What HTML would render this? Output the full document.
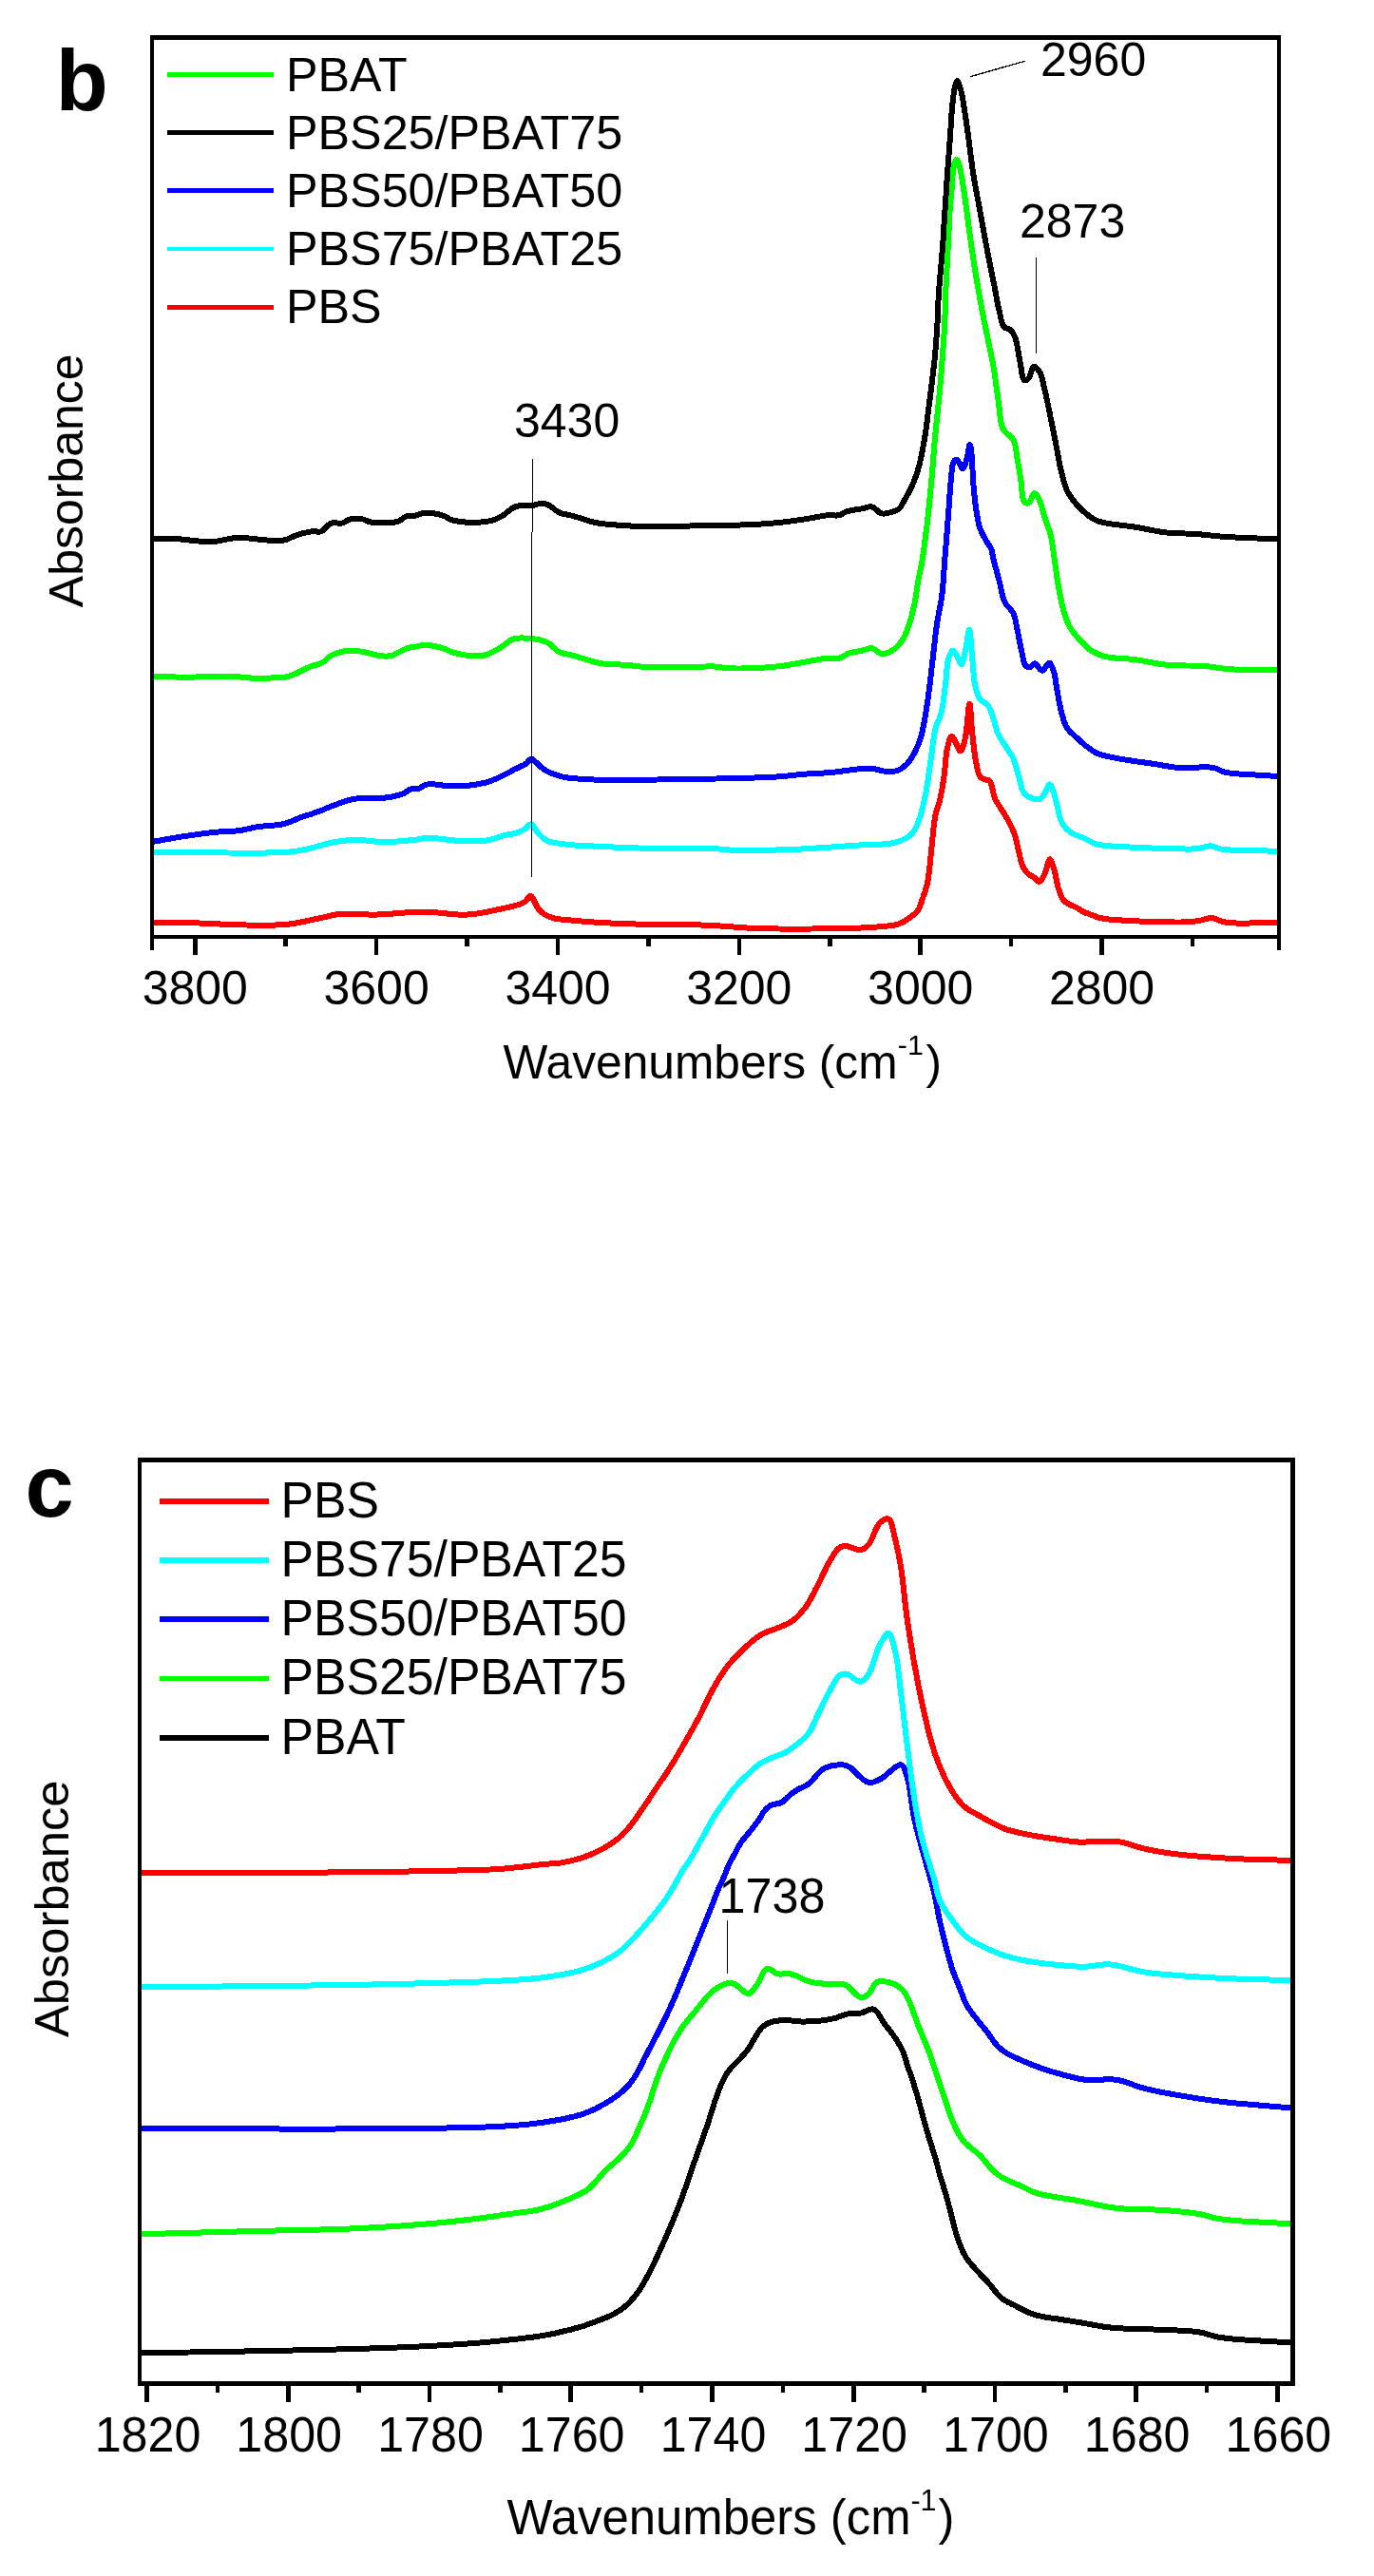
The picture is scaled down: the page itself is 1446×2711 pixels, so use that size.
<!DOCTYPE html>
<html><head><meta charset="utf-8"><style>
html,body{margin:0;padding:0;background:#fff;}
svg{display:block;will-change:transform;}
</style></head><body>
<svg width="1446" height="2711" viewBox="0 0 1446 2711" shape-rendering="crispEdges">
<rect x="0" y="0" width="1446" height="2711" fill="#fff"/>
<g clip-path="url(#clipb)">
<polyline points="158.7,970.5 164.7,970.6 170.7,970.7 176.6,970.8 182.6,970.9 188.6,971.0 194.6,971.1 200.7,971.2 206.8,971.4 213.3,971.6 219.9,971.9 226.5,972.2 233.2,972.6 239.8,972.9 246.4,973.2 252.9,973.4 259.2,973.5 264.9,973.6 270.6,973.6 276.2,973.7 281.7,973.7 287.2,973.6 292.6,973.4 297.8,973.1 302.8,972.7 306.9,972.2 310.9,971.6 314.8,970.9 318.6,970.1 322.4,969.3 326.1,968.5 329.7,967.7 333.4,967.0 336.7,966.3 340.0,965.5 343.2,964.8 346.4,964.0 349.6,963.3 352.8,962.6 356.1,962.1 359.6,961.7 363.7,961.5 367.8,961.5 372.0,961.6 376.3,961.9 380.7,962.2 385.2,962.4 389.8,962.6 394.5,962.6 400.6,962.4 407.0,962.0 413.6,961.5 420.4,961.0 427.2,960.4 434.0,960.0 440.6,959.7 447.0,959.6 452.7,959.8 458.3,960.2 463.9,960.8 469.4,961.4 474.8,962.0 480.2,962.4 485.4,962.7 490.6,962.6 495.2,962.3 499.7,961.8 504.2,961.2 508.6,960.4 513.0,959.6 517.2,958.7 521.4,957.8 525.5,956.9 529.1,956.1 532.8,955.3 536.5,954.5 540.0,953.6 543.4,952.7 546.6,951.7 549.4,950.7 551.7,949.5 552.8,948.7 553.8,947.6 554.6,946.5 555.4,945.4 556.1,944.4 556.8,943.6 557.5,943.1 558.3,943.0 559.4,943.5 560.4,944.8 561.4,946.6 562.4,948.7 563.5,951.0 564.6,953.2 565.7,955.2 567.0,956.9 568.2,958.1 569.4,959.3 570.6,960.4 571.9,961.4 573.2,962.3 574.7,963.2 576.3,964.0 578.0,964.8 580.9,965.8 584.2,966.6 587.7,967.2 591.5,967.7 595.5,968.1 599.7,968.4 604.0,968.8 608.5,969.2 615.5,969.8 623.2,970.4 631.5,970.9 640.0,971.4 648.7,971.8 657.4,972.1 665.9,972.4 674.0,972.7 681.3,972.9 688.7,973.0 696.1,973.0 703.4,973.0 710.5,973.0 717.4,973.0 723.9,973.1 730.0,973.2 734.1,973.3 737.9,973.5 741.6,973.6 745.1,973.8 748.5,974.0 752.0,974.2 755.7,974.4 759.5,974.6 764.0,974.9 768.6,975.2 773.1,975.6 777.8,975.9 782.7,976.3 787.7,976.6 793.1,976.9 798.8,977.1 808.4,977.3 819.2,977.5 830.9,977.6 843.0,977.6 855.1,977.5 866.8,977.4 877.6,977.3 887.2,977.1 893.0,977.0 898.5,976.8 903.7,976.6 908.7,976.4 913.4,976.2 918.0,975.9 922.3,975.6 926.5,975.2 929.3,974.9 932.1,974.7 934.7,974.4 937.2,974.2 939.6,973.8 941.9,973.4 944.1,972.9 946.2,972.2 947.9,971.5 949.5,970.8 951.0,970.0 952.5,969.1 953.9,968.1 955.3,967.2 956.6,966.2 957.9,965.3 959.0,964.5 960.1,963.7 961.2,962.9 962.2,962.1 963.1,961.3 964.1,960.4 965.0,959.4 965.8,958.3 966.7,956.8 967.6,955.1 968.3,953.3 969.0,951.4 969.7,949.5 970.3,947.5 971.0,945.6 971.6,943.7 972.2,941.9 972.8,940.2 973.4,938.4 974.0,936.7 974.5,934.9 975.1,933.1 975.5,931.2 976.0,929.2 976.5,926.7 976.9,924.1 977.3,921.5 977.6,918.7 978.0,916.0 978.3,913.1 978.6,910.2 978.9,907.3 979.3,903.8 979.6,900.2 980.0,896.5 980.3,892.7 980.7,889.0 981.1,885.3 981.4,881.7 981.8,878.2 982.1,875.3 982.4,872.4 982.7,869.6 983.1,866.8 983.4,864.1 983.8,861.4 984.2,858.9 984.7,856.4 985.2,854.4 985.7,852.6 986.3,850.9 986.8,849.2 987.4,847.4 988.0,845.7 988.6,843.8 989.1,841.8 989.7,839.0 990.3,836.1 990.9,833.1 991.5,830.0 992.0,826.8 992.5,823.5 993.0,820.3 993.5,817.0 994.0,813.2 994.4,809.3 994.8,805.1 995.1,801.0 995.5,797.0 995.9,793.1 996.5,789.6 997.1,786.5 997.6,784.6 998.1,782.7 998.6,780.7 999.1,778.9 999.7,777.4 1000.3,776.1 1000.9,775.2 1001.5,774.9 1002.0,775.1 1002.6,775.6 1003.1,776.4 1003.7,777.5 1004.3,778.6 1004.9,779.8 1005.4,781.0 1006.0,782.0 1006.6,783.1 1007.2,784.4 1007.8,785.8 1008.4,787.1 1009.0,788.3 1009.6,789.3 1010.1,790.0 1010.7,790.2 1011.3,789.9 1011.9,789.1 1012.5,788.0 1013.1,786.5 1013.7,784.8 1014.3,783.0 1014.8,781.1 1015.3,779.2 1016.2,775.0 1016.9,769.5 1017.6,763.1 1018.3,756.6 1018.9,750.5 1019.4,745.5 1019.9,742.0 1020.4,740.7 1020.7,741.4 1021.0,743.2 1021.3,746.0 1021.5,749.4 1021.8,753.2 1022.0,757.2 1022.3,761.1 1022.6,764.7 1023.0,769.0 1023.5,773.6 1024.0,778.5 1024.5,783.4 1025.1,788.2 1025.7,792.9 1026.3,797.2 1027.0,801.1 1027.5,803.5 1027.9,805.9 1028.3,808.2 1028.8,810.4 1029.3,812.4 1029.9,814.2 1030.5,815.8 1031.3,817.1 1031.8,817.7 1032.3,818.2 1032.8,818.6 1033.4,818.9 1033.9,819.2 1034.5,819.4 1035.1,819.7 1035.7,820.0 1036.4,820.3 1037.1,820.4 1037.9,820.6 1038.6,820.7 1039.4,820.9 1040.2,821.1 1040.9,821.5 1041.5,822.0 1042.5,823.5 1043.3,825.5 1044.0,828.0 1044.6,830.7 1045.2,833.5 1045.8,836.3 1046.5,838.8 1047.3,841.0 1048.0,842.4 1048.7,843.6 1049.4,844.8 1050.1,845.9 1050.9,847.0 1051.6,848.2 1052.4,849.3 1053.2,850.6 1054.2,852.3 1055.3,854.0 1056.5,855.8 1057.6,857.7 1058.7,859.6 1059.9,861.4 1060.9,863.3 1061.9,865.1 1062.7,866.7 1063.5,868.3 1064.3,869.9 1065.0,871.5 1065.7,873.1 1066.4,874.8 1067.1,876.5 1067.7,878.2 1068.4,880.3 1069.0,882.4 1069.5,884.6 1070.0,886.8 1070.5,889.1 1071.0,891.3 1071.6,893.5 1072.1,895.7 1072.6,897.8 1073.1,899.9 1073.5,902.0 1074.0,904.1 1074.5,906.2 1075.1,908.2 1075.7,910.0 1076.4,911.7 1077.0,912.9 1077.7,914.1 1078.4,915.2 1079.1,916.2 1079.9,917.2 1080.7,918.1 1081.5,918.9 1082.3,919.7 1083.0,920.3 1083.7,920.8 1084.4,921.2 1085.2,921.6 1085.9,922.0 1086.6,922.4 1087.4,922.8 1088.1,923.3 1088.8,923.9 1089.6,924.6 1090.3,925.4 1091.1,926.1 1091.8,926.8 1092.5,927.3 1093.2,927.7 1093.9,927.7 1094.7,927.4 1095.5,926.7 1096.2,925.7 1097.0,924.5 1097.7,923.2 1098.4,921.7 1099.1,920.3 1099.7,919.0 1100.4,917.2 1101.1,915.0 1101.8,912.6 1102.4,910.2 1103.0,908.0 1103.6,906.1 1104.2,904.9 1104.8,904.4 1105.4,904.7 1105.9,905.4 1106.5,906.5 1107.0,907.9 1107.6,909.6 1108.1,911.3 1108.7,913.0 1109.2,914.6 1109.9,917.0 1110.5,919.6 1111.1,922.5 1111.7,925.4 1112.2,928.4 1112.9,931.3 1113.5,934.0 1114.3,936.4 1114.9,938.1 1115.5,939.7 1116.1,941.3 1116.7,942.8 1117.4,944.2 1118.1,945.6 1119.0,946.9 1120.1,948.1 1121.6,949.4 1123.3,950.6 1125.3,951.6 1127.3,952.6 1129.4,953.5 1131.4,954.4 1133.2,955.3 1134.7,956.1 1135.5,956.6 1136.2,957.1 1136.9,957.6 1137.5,958.1 1138.1,958.5 1138.7,958.9 1139.3,959.3 1140.0,959.7 1140.7,960.0 1141.5,960.3 1142.2,960.6 1143.0,960.8 1143.8,961.1 1144.6,961.3 1145.4,961.6 1146.3,961.9 1147.6,962.4 1148.9,962.9 1150.3,963.5 1151.7,964.0 1153.2,964.6 1154.8,965.2 1156.4,965.7 1158.2,966.1 1161.0,966.6 1164.0,967.1 1167.1,967.5 1170.4,967.8 1174.0,968.1 1177.7,968.3 1181.5,968.6 1185.6,968.8 1192.6,969.2 1200.8,969.6 1209.6,969.9 1218.7,970.2 1227.7,970.4 1236.1,970.5 1243.5,970.5 1249.5,970.3 1251.8,970.2 1253.9,970.0 1255.8,969.8 1257.6,969.6 1259.2,969.3 1260.9,969.1 1262.5,968.8 1264.1,968.5 1265.5,968.2 1266.9,967.8 1268.2,967.4 1269.6,967.0 1270.9,966.6 1272.2,966.3 1273.6,966.1 1275.0,966.1 1276.7,966.3 1278.3,966.7 1279.9,967.3 1281.5,968.0 1283.3,968.8 1285.2,969.5 1287.3,970.1 1289.6,970.6 1294.8,971.2 1301.0,971.5 1307.8,971.5 1315.2,971.5 1322.8,971.3 1330.5,971.2 1338.1,971.0 1345.3,971.0" fill="none" stroke="#ff0000" stroke-width="6.0" stroke-linejoin="round" stroke-linecap="butt" shape-rendering="crispEdges"/>
<polyline points="158.7,896.7 177.6,896.8 197.7,897.0 218.3,897.3 238.7,897.5 258.1,897.6 275.7,897.6 290.9,897.3 302.8,896.7 306.5,896.4 309.7,896.0 312.5,895.6 315.0,895.2 317.4,894.8 319.7,894.3 322.1,893.8 324.7,893.2 327.5,892.6 330.2,891.8 333.0,891.0 335.8,890.2 338.5,889.4 341.2,888.6 343.9,887.9 346.5,887.3 348.8,886.8 351.0,886.4 353.2,886.0 355.4,885.6 357.6,885.3 359.7,885.0 361.9,884.7 364.0,884.5 365.9,884.3 367.8,884.2 369.7,884.1 371.5,884.1 373.4,884.0 375.3,884.0 377.3,884.0 379.3,884.1 381.9,884.2 384.6,884.5 387.4,884.7 390.2,885.1 393.0,885.4 395.8,885.6 398.5,885.9 401.1,886.0 403.1,886.0 405.0,886.1 406.9,886.0 408.7,886.0 410.5,885.9 412.4,885.8 414.3,885.7 416.4,885.6 419.2,885.4 422.2,885.2 425.3,884.9 428.4,884.6 431.6,884.3 434.6,884.0 437.4,883.7 440.0,883.4 441.5,883.2 442.9,882.9 444.1,882.7 445.3,882.4 446.6,882.2 447.9,882.0 449.3,881.9 450.9,881.8 454.2,881.9 457.9,882.1 462.0,882.6 466.3,883.1 470.8,883.7 475.3,884.2 479.6,884.6 483.7,884.9 487.4,885.0 491.0,885.2 494.7,885.3 498.3,885.3 501.9,885.3 505.4,885.1 508.7,884.9 512.0,884.5 514.7,884.0 517.3,883.4 519.9,882.7 522.4,881.9 524.9,881.1 527.2,880.3 529.5,879.6 531.7,879.0 533.3,878.6 534.8,878.3 536.2,878.1 537.7,877.8 539.0,877.6 540.4,877.3 541.7,877.0 543.0,876.6 544.1,876.2 545.2,875.9 546.3,875.5 547.4,875.1 548.4,874.6 549.4,874.1 550.4,873.6 551.4,873.1 552.4,872.4 553.4,871.5 554.4,870.5 555.3,869.6 556.3,868.7 557.2,867.9 558.1,867.5 559.0,867.4 559.9,867.7 560.7,868.5 561.5,869.5 562.2,870.7 563.0,872.0 563.8,873.3 564.6,874.6 565.5,875.7 566.6,876.9 567.6,878.0 568.7,879.2 569.9,880.4 571.1,881.6 572.4,882.6 573.9,883.6 575.4,884.5 577.6,885.4 580.0,886.2 582.5,886.8 585.3,887.3 588.1,887.7 591.0,888.1 594.1,888.4 597.2,888.8 601.6,889.3 606.3,889.6 611.4,890.0 616.5,890.2 621.7,890.4 626.8,890.6 631.8,890.8 636.5,891.0 640.2,891.2 643.7,891.4 647.0,891.6 650.3,891.7 653.6,891.9 657.1,892.0 660.8,892.2 664.9,892.3 671.9,892.5 679.9,892.6 688.5,892.7 697.4,892.9 706.3,892.9 714.9,893.0 722.9,893.1 730.0,893.2 734.3,893.2 738.6,893.3 742.6,893.3 746.5,893.3 750.1,893.3 753.5,893.4 756.7,893.5 759.5,893.6 760.9,893.7 762.1,893.8 763.2,894.0 764.2,894.1 765.3,894.2 766.4,894.4 767.7,894.5 769.3,894.6 774.4,894.8 780.8,894.8 788.3,894.9 796.4,894.8 804.9,894.7 813.2,894.6 821.2,894.4 828.3,894.2 833.6,894.0 838.7,893.8 843.6,893.5 848.5,893.2 853.2,892.9 858.0,892.6 862.7,892.3 867.6,892.0 872.6,891.7 877.6,891.3 882.6,891.0 887.6,890.6 892.6,890.3 897.5,889.9 902.3,889.6 906.9,889.3 910.9,889.1 914.8,889.0 918.7,888.9 922.6,888.8 926.3,888.6 929.8,888.4 933.2,888.1 936.3,887.7 938.3,887.3 940.2,887.0 942.0,886.6 943.7,886.1 945.4,885.6 947.0,885.1 948.6,884.5 950.1,883.8 951.5,883.1 952.8,882.4 954.1,881.7 955.4,880.9 956.6,880.1 957.8,879.2 958.9,878.1 960.0,877.0 961.2,875.5 962.2,873.9 963.2,872.2 964.2,870.3 965.0,868.3 965.9,866.3 966.7,864.2 967.5,862.0 968.5,859.1 969.5,855.9 970.3,852.7 971.2,849.3 972.0,845.8 972.7,842.2 973.5,838.6 974.2,835.0 975.0,830.9 975.7,826.6 976.4,822.2 977.0,817.8 977.6,813.3 978.2,808.8 978.9,804.4 979.5,800.0 980.1,795.6 980.7,791.2 981.3,786.6 981.9,782.1 982.5,777.8 983.1,773.6 983.9,769.6 984.7,766.0 985.4,763.7 986.1,761.7 986.9,759.8 987.7,758.0 988.5,756.2 989.2,754.3 990.0,752.3 990.6,750.1 991.3,746.9 992.0,743.5 992.5,739.9 993.0,736.1 993.5,732.3 994.0,728.5 994.4,724.7 994.9,721.0 995.4,717.2 995.7,713.3 996.1,709.2 996.4,705.2 996.8,701.3 997.3,697.8 997.9,694.6 998.6,691.9 999.1,690.6 999.6,689.3 1000.1,688.1 1000.6,687.0 1001.2,686.1 1001.8,685.3 1002.3,684.8 1002.9,684.6 1003.4,684.7 1003.9,685.1 1004.4,685.7 1005.0,686.5 1005.5,687.3 1006.0,688.3 1006.5,689.2 1007.0,690.0 1007.6,691.1 1008.2,692.6 1008.8,694.1 1009.4,695.6 1010.0,697.0 1010.6,698.2 1011.2,698.9 1011.7,699.2 1012.3,698.7 1012.9,697.6 1013.5,695.9 1014.0,693.9 1014.5,691.5 1015.0,689.1 1015.5,686.8 1016.0,684.6 1016.6,681.8 1017.1,678.4 1017.7,674.8 1018.2,671.2 1018.7,667.9 1019.2,665.2 1019.7,663.4 1020.1,662.7 1020.5,663.3 1020.8,665.0 1021.1,667.5 1021.4,670.6 1021.7,674.1 1022.0,677.7 1022.3,681.3 1022.6,684.6 1023.0,688.8 1023.3,693.4 1023.7,698.3 1024.1,703.3 1024.5,708.2 1024.9,712.9 1025.5,717.2 1026.2,721.0 1026.7,723.2 1027.2,725.3 1027.7,727.3 1028.3,729.2 1028.9,730.9 1029.6,732.6 1030.4,734.1 1031.3,735.6 1032.2,736.7 1033.3,737.6 1034.5,738.4 1035.7,739.2 1036.9,740.0 1038.1,740.8 1039.1,741.7 1040.1,742.8 1041.1,744.3 1041.9,746.0 1042.7,747.8 1043.4,749.7 1044.0,751.6 1044.7,753.6 1045.3,755.5 1045.9,757.4 1046.5,759.2 1047.0,761.0 1047.4,762.9 1047.9,764.7 1048.4,766.5 1048.9,768.3 1049.5,770.1 1050.2,771.9 1051.1,773.8 1052.1,775.6 1053.2,777.5 1054.4,779.4 1055.6,781.2 1056.7,783.0 1057.9,784.8 1059.0,786.5 1060.0,788.0 1060.9,789.4 1061.9,790.8 1062.8,792.2 1063.8,793.6 1064.6,795.0 1065.5,796.6 1066.3,798.2 1067.2,800.3 1068.0,802.6 1068.7,804.9 1069.4,807.4 1070.1,809.9 1070.8,812.3 1071.4,814.8 1072.1,817.1 1072.7,819.3 1073.3,821.6 1073.8,823.9 1074.4,826.2 1075.0,828.4 1075.6,830.5 1076.4,832.3 1077.2,833.8 1077.8,834.6 1078.4,835.4 1079.0,836.0 1079.7,836.6 1080.4,837.1 1081.2,837.6 1081.9,838.1 1082.8,838.5 1084.0,839.1 1085.4,839.7 1086.8,840.2 1088.4,840.7 1089.9,841.1 1091.4,841.3 1092.7,841.3 1093.9,841.1 1094.8,840.7 1095.6,840.1 1096.4,839.3 1097.1,838.5 1097.8,837.5 1098.4,836.5 1099.1,835.6 1099.7,834.6 1100.4,833.4 1101.0,832.0 1101.6,830.5 1102.2,829.0 1102.8,827.6 1103.4,826.5 1103.9,825.7 1104.5,825.4 1105.0,825.6 1105.5,826.2 1106.1,827.0 1106.6,828.0 1107.1,829.2 1107.6,830.5 1108.0,831.8 1108.5,833.0 1109.1,834.7 1109.7,836.6 1110.2,838.6 1110.7,840.7 1111.2,842.8 1111.8,844.9 1112.3,847.0 1112.8,849.1 1113.3,851.1 1113.8,853.2 1114.2,855.3 1114.6,857.4 1115.1,859.5 1115.7,861.4 1116.4,863.3 1117.2,865.1 1118.0,866.6 1118.9,868.0 1119.9,869.4 1121.0,870.7 1122.1,871.9 1123.3,873.1 1124.5,874.2 1125.9,875.3 1127.6,876.4 1129.5,877.5 1131.5,878.4 1133.6,879.3 1135.8,880.1 1137.9,880.9 1139.9,881.8 1141.9,882.6 1143.5,883.4 1145.0,884.2 1146.5,885.0 1147.9,885.8 1149.4,886.5 1151.0,887.3 1152.7,887.9 1154.6,888.5 1157.7,889.2 1161.2,889.7 1164.9,890.1 1168.8,890.4 1172.9,890.7 1177.1,890.9 1181.3,891.1 1185.6,891.3 1190.9,891.6 1196.6,891.9 1202.5,892.2 1208.5,892.4 1214.5,892.6 1220.3,892.8 1225.9,893.0 1231.2,893.1 1235.2,893.2 1239.2,893.3 1243.1,893.4 1246.9,893.5 1250.5,893.5 1254.0,893.5 1257.3,893.3 1260.4,893.1 1262.4,892.8 1264.2,892.4 1266.0,892.0 1267.6,891.5 1269.3,891.0 1270.9,890.7 1272.5,890.4 1274.1,890.4 1275.6,890.6 1276.9,890.9 1278.2,891.3 1279.5,891.8 1280.9,892.3 1282.4,892.8 1284.1,893.3 1286.0,893.7 1291.2,894.3 1297.6,894.7 1304.9,895.0 1312.8,895.2 1321.1,895.3 1329.4,895.4 1337.6,895.6 1345.3,895.8" fill="none" stroke="#00ffff" stroke-width="6.0" stroke-linejoin="round" stroke-linecap="butt" shape-rendering="crispEdges"/>
<polyline points="159.8,886.0 164.0,885.3 168.3,884.5 172.5,883.7 176.8,883.0 181.0,882.2 185.3,881.5 189.5,880.8 193.7,880.1 197.8,879.5 202.0,878.9 206.2,878.3 210.3,877.7 214.4,877.2 218.5,876.7 222.5,876.2 226.4,875.8 229.8,875.5 233.3,875.3 236.7,875.1 240.0,875.0 243.3,874.8 246.5,874.6 249.6,874.4 252.6,874.0 254.9,873.6 257.1,873.2 259.2,872.7 261.3,872.2 263.4,871.7 265.5,871.2 267.7,870.7 270.1,870.3 273.4,869.8 276.9,869.5 280.6,869.2 284.3,868.9 288.1,868.6 291.8,868.2 295.3,867.7 298.5,867.0 300.9,866.3 303.2,865.6 305.4,864.8 307.5,864.0 309.6,863.1 311.7,862.2 313.8,861.3 316.0,860.5 318.4,859.7 320.9,858.8 323.4,858.0 326.0,857.2 328.5,856.4 331.0,855.5 333.3,854.7 335.6,853.9 337.3,853.2 339.0,852.6 340.5,851.9 342.1,851.2 343.6,850.5 345.2,849.9 346.9,849.2 348.7,848.5 351.3,847.5 354.1,846.5 356.9,845.4 359.9,844.3 363.0,843.3 366.2,842.3 369.4,841.5 372.7,840.8 376.8,840.3 381.2,840.0 385.8,839.9 390.5,839.9 395.1,839.9 399.6,839.9 403.8,839.7 407.6,839.3 410.2,838.9 412.6,838.5 415.0,838.0 417.3,837.4 419.5,836.9 421.5,836.2 423.4,835.6 425.1,834.9 426.1,834.4 427.0,833.8 427.8,833.2 428.6,832.6 429.3,832.0 430.0,831.5 430.8,831.0 431.7,830.6 432.7,830.4 433.7,830.2 434.7,830.2 435.7,830.2 436.8,830.2 437.9,830.2 438.9,830.1 440.0,829.9 441.2,829.5 442.3,829.0 443.4,828.3 444.6,827.7 445.8,827.0 447.0,826.4 448.3,825.9 449.8,825.5 452.2,825.3 454.9,825.3 457.9,825.5 461.0,825.9 464.1,826.3 467.1,826.7 470.1,827.0 472.8,827.2 474.8,827.3 476.7,827.4 478.6,827.4 480.4,827.4 482.2,827.5 484.0,827.4 486.0,827.3 488.0,827.2 490.8,826.9 493.8,826.6 496.9,826.2 500.0,825.8 503.2,825.2 506.3,824.6 509.2,824.0 512.0,823.3 514.1,822.7 516.1,822.0 518.0,821.3 519.9,820.5 521.8,819.7 523.6,818.9 525.4,818.1 527.3,817.2 529.2,816.3 531.2,815.3 533.2,814.2 535.1,813.2 537.1,812.1 539.0,811.0 540.8,810.0 542.6,809.1 544.1,808.4 545.5,807.7 547.0,807.0 548.4,806.4 549.8,805.7 551.1,805.1 552.4,804.4 553.5,803.7 554.3,803.1 555.0,802.3 555.7,801.5 556.4,800.8 557.0,800.1 557.7,799.5 558.3,799.1 559.0,798.9 559.7,799.0 560.3,799.2 561.0,799.6 561.7,800.1 562.4,800.7 563.1,801.4 563.8,802.0 564.5,802.6 565.5,803.4 566.5,804.3 567.4,805.3 568.5,806.3 569.5,807.4 570.7,808.4 571.9,809.3 573.2,810.2 575.0,811.2 577.0,812.3 579.1,813.2 581.3,814.2 583.6,815.0 585.9,815.8 588.3,816.5 590.7,817.2 593.4,817.8 596.2,818.3 599.1,818.7 602.0,819.0 605.0,819.3 608.1,819.5 611.3,819.8 614.7,820.0 619.5,820.3 624.7,820.5 630.1,820.7 635.7,820.9 641.4,821.0 647.1,821.0 652.8,821.1 658.3,821.1 663.8,821.1 669.4,821.0 675.1,820.9 680.8,820.8 686.3,820.7 691.8,820.5 697.0,820.4 702.0,820.3 705.7,820.2 709.3,820.2 712.6,820.1 715.9,820.1 719.2,820.1 722.6,820.0 726.2,820.0 730.0,819.9 735.5,819.8 741.4,819.7 747.6,819.6 754.0,819.5 760.5,819.4 766.9,819.3 773.1,819.2 779.1,819.0 784.3,818.8 789.4,818.7 794.4,818.5 799.4,818.4 804.3,818.2 809.1,817.9 813.8,817.7 818.4,817.4 822.3,817.1 826.1,816.8 829.8,816.4 833.4,816.0 837.0,815.6 840.6,815.3 844.2,814.9 847.9,814.6 851.6,814.3 855.4,814.1 859.2,813.9 863.0,813.7 866.8,813.5 870.5,813.3 874.0,813.0 877.4,812.7 880.0,812.4 882.6,812.1 885.0,811.7 887.4,811.4 889.8,811.0 892.2,810.7 894.6,810.4 897.0,810.1 899.5,809.8 901.9,809.5 904.4,809.3 906.9,809.0 909.4,808.8 911.9,808.7 914.3,808.6 916.7,808.7 919.0,808.9 921.3,809.4 923.6,809.9 925.8,810.5 928.1,811.1 930.3,811.6 932.4,812.0 934.4,812.1 936.0,812.1 937.6,812.0 939.1,811.9 940.6,811.7 942.0,811.5 943.5,811.1 944.8,810.6 946.2,810.1 947.6,809.4 948.9,808.6 950.2,807.7 951.4,806.7 952.6,805.6 953.8,804.5 954.9,803.4 956.0,802.2 957.0,801.0 958.0,799.7 958.9,798.3 959.8,796.9 960.6,795.5 961.4,794.0 962.2,792.5 963.0,791.0 963.8,789.4 964.6,787.7 965.3,786.0 966.1,784.3 966.8,782.5 967.4,780.7 968.1,778.9 968.7,777.0 969.4,774.8 970.0,772.5 970.6,770.1 971.1,767.7 971.6,765.2 972.1,762.7 972.6,760.1 973.1,757.4 973.7,754.1 974.3,750.6 974.8,747.1 975.4,743.4 975.9,739.7 976.5,735.9 977.0,732.1 977.5,728.3 978.1,723.9 978.6,719.5 979.2,715.0 979.7,710.4 980.2,705.7 980.7,701.1 981.3,696.5 981.8,691.9 982.3,687.3 982.9,682.7 983.4,678.1 983.9,673.4 984.4,668.8 985.0,664.3 985.6,659.8 986.2,655.5 986.8,651.7 987.5,648.1 988.1,644.5 988.8,641.0 989.5,637.4 990.2,633.8 990.8,630.2 991.3,626.4 991.8,622.0 992.2,617.5 992.6,612.8 993.0,608.1 993.3,603.4 993.6,598.8 993.9,594.3 994.2,590.0 994.5,586.4 994.8,583.0 995.0,579.6 995.3,576.3 995.6,573.0 995.9,569.6 996.1,566.3 996.4,562.9 996.7,559.3 997.0,555.7 997.2,552.1 997.5,548.4 997.8,544.8 998.1,541.1 998.3,537.4 998.6,533.8 998.9,530.1 999.1,526.4 999.4,522.6 999.6,518.9 999.9,515.2 1000.1,511.5 1000.5,508.0 1000.8,504.7 1001.1,502.0 1001.3,499.2 1001.6,496.4 1001.9,493.7 1002.2,491.2 1002.6,489.0 1003.1,487.1 1003.7,485.7 1004.0,485.2 1004.4,484.8 1004.7,484.4 1005.1,484.1 1005.5,483.9 1005.9,483.7 1006.2,483.6 1006.6,483.6 1007.0,483.8 1007.5,484.1 1007.9,484.7 1008.3,485.3 1008.8,486.0 1009.2,486.7 1009.6,487.4 1010.0,488.0 1010.4,488.7 1010.8,489.5 1011.2,490.3 1011.6,491.1 1011.9,491.9 1012.3,492.5 1012.7,492.9 1013.1,493.0 1013.7,492.7 1014.2,491.9 1014.8,490.7 1015.4,489.3 1016.0,487.7 1016.5,486.0 1017.0,484.3 1017.5,482.8 1018.0,480.9 1018.4,478.6 1018.9,476.1 1019.2,473.7 1019.6,471.4 1019.9,469.6 1020.3,468.4 1020.6,467.9 1020.9,468.2 1021.2,468.9 1021.4,470.1 1021.7,471.6 1021.9,473.2 1022.2,475.0 1022.4,476.8 1022.6,478.5 1022.9,481.2 1023.1,484.2 1023.2,487.4 1023.3,490.8 1023.5,494.3 1023.6,497.8 1023.8,501.3 1024.0,504.7 1024.3,508.3 1024.6,512.0 1024.9,515.7 1025.3,519.4 1025.7,523.1 1026.1,526.8 1026.5,530.4 1027.0,533.8 1027.4,536.7 1027.9,539.6 1028.3,542.4 1028.8,545.2 1029.3,547.9 1029.9,550.6 1030.5,553.1 1031.3,555.6 1032.1,557.6 1032.9,559.6 1033.9,561.6 1034.8,563.5 1035.8,565.3 1036.8,567.0 1037.7,568.7 1038.6,570.2 1039.2,571.2 1039.8,572.2 1040.4,573.0 1041.0,573.9 1041.5,574.7 1042.0,575.6 1042.5,576.5 1043.0,577.5 1043.5,578.9 1043.9,580.3 1044.2,581.8 1044.5,583.3 1044.8,584.9 1045.2,586.5 1045.5,588.2 1045.9,590.0 1046.5,592.4 1047.2,595.0 1047.9,597.7 1048.7,600.5 1049.4,603.4 1050.2,606.2 1051.0,609.0 1051.7,611.8 1052.4,614.6 1053.0,617.5 1053.6,620.4 1054.2,623.3 1054.9,626.1 1055.6,628.8 1056.5,631.4 1057.5,633.7 1058.5,635.4 1059.5,636.9 1060.7,638.3 1062.0,639.6 1063.2,640.9 1064.3,642.2 1065.4,643.7 1066.3,645.3 1067.1,647.2 1067.8,649.3 1068.4,651.4 1068.8,653.6 1069.3,655.9 1069.7,658.2 1070.1,660.5 1070.6,662.8 1071.2,665.4 1071.7,668.2 1072.2,670.9 1072.8,673.8 1073.3,676.6 1073.9,679.3 1074.4,682.0 1075.0,684.6 1075.5,686.8 1075.9,689.2 1076.4,691.5 1076.9,693.8 1077.4,696.0 1077.9,697.9 1078.6,699.4 1079.4,700.6 1079.9,701.0 1080.4,701.4 1080.9,701.7 1081.5,701.9 1082.0,702.1 1082.6,702.1 1083.2,702.1 1083.7,702.1 1084.3,701.9 1085.0,701.4 1085.6,700.8 1086.2,700.1 1086.8,699.5 1087.5,698.9 1088.1,698.5 1088.8,698.4 1089.7,698.8 1090.7,699.6 1091.7,700.8 1092.8,702.1 1093.8,703.5 1094.8,704.6 1095.8,705.4 1096.8,705.7 1097.8,705.3 1098.7,704.4 1099.7,703.1 1100.6,701.6 1101.6,700.1 1102.5,698.8 1103.3,698.0 1104.1,697.7 1104.8,697.9 1105.4,698.5 1106.0,699.2 1106.5,700.2 1107.0,701.3 1107.5,702.5 1108.0,703.8 1108.5,705.0 1109.2,707.3 1109.8,709.9 1110.4,712.8 1110.9,715.8 1111.3,719.0 1111.8,722.2 1112.3,725.3 1112.8,728.3 1113.3,731.1 1113.8,733.9 1114.3,736.7 1114.8,739.5 1115.4,742.2 1115.9,744.9 1116.5,747.6 1117.2,750.1 1117.8,752.3 1118.4,754.4 1119.0,756.5 1119.6,758.5 1120.3,760.5 1121.1,762.5 1122.0,764.3 1123.0,766.1 1124.2,767.8 1125.6,769.4 1127.1,771.0 1128.8,772.5 1130.4,774.0 1131.9,775.3 1133.4,776.6 1134.7,777.8 1135.5,778.5 1136.2,779.2 1136.8,779.8 1137.5,780.4 1138.1,781.0 1138.7,781.6 1139.4,782.1 1140.0,782.7 1140.6,783.2 1141.2,783.7 1141.8,784.1 1142.3,784.6 1142.9,785.1 1143.5,785.5 1144.2,786.0 1144.9,786.5 1145.9,787.2 1147.0,788.0 1148.1,788.9 1149.2,789.7 1150.4,790.5 1151.7,791.3 1153.1,792.1 1154.6,792.8 1156.8,793.7 1159.3,794.5 1161.8,795.2 1164.6,795.8 1167.4,796.4 1170.4,797.0 1173.4,797.6 1176.5,798.2 1180.6,799.0 1185.1,799.7 1189.7,800.4 1194.5,801.1 1199.3,801.8 1204.0,802.4 1208.6,803.1 1213.0,803.7 1216.6,804.3 1220.0,804.9 1223.3,805.5 1226.6,806.1 1229.9,806.6 1233.3,807.1 1236.7,807.6 1240.3,807.9 1244.7,808.1 1249.5,808.0 1254.4,807.8 1259.4,807.6 1264.3,807.4 1268.9,807.3 1273.1,807.5 1276.8,807.9 1278.7,808.4 1280.4,808.9 1281.8,809.6 1283.2,810.3 1284.6,811.0 1286.1,811.7 1287.7,812.3 1289.6,812.8 1293.0,813.4 1296.8,813.9 1301.0,814.3 1305.4,814.6 1309.8,814.9 1314.2,815.1 1318.5,815.3 1322.4,815.6 1325.5,815.8 1328.4,816.0 1331.3,816.2 1334.1,816.4 1336.9,816.5 1339.7,816.7 1342.5,816.8 1345.3,817.0" fill="none" stroke="#0000ff" stroke-width="6.0" stroke-linejoin="round" stroke-linecap="butt" shape-rendering="crispEdges"/>
<polyline points="159.8,711.7 164.0,711.8 168.1,712.0 172.2,712.1 176.3,712.2 180.5,712.3 184.7,712.5 189.1,712.5 193.7,712.6 199.8,712.6 206.3,712.5 213.1,712.4 220.0,712.2 226.9,712.1 233.6,712.0 240.1,712.0 246.0,712.1 250.3,712.3 254.5,712.6 258.5,713.0 262.5,713.4 266.3,713.8 269.9,714.1 273.3,714.3 276.6,714.3 278.8,714.2 280.9,714.0 282.8,713.8 284.7,713.5 286.6,713.3 288.4,713.0 290.1,712.8 291.9,712.6 293.3,712.5 294.7,712.5 296.0,712.6 297.3,712.6 298.6,712.6 299.9,712.6 301.3,712.4 302.8,712.1 305.2,711.4 307.9,710.3 310.7,709.1 313.5,707.7 316.5,706.2 319.3,704.8 322.1,703.4 324.7,702.3 326.8,701.5 328.8,700.9 330.8,700.2 332.8,699.7 334.8,699.1 336.6,698.4 338.4,697.7 340.0,696.9 341.2,696.1 342.3,695.2 343.3,694.3 344.3,693.4 345.3,692.4 346.3,691.5 347.4,690.7 348.7,689.9 350.6,689.0 352.6,688.2 354.8,687.4 357.1,686.7 359.4,686.0 361.7,685.5 364.0,685.1 366.2,684.8 368.1,684.7 370.0,684.6 371.9,684.7 373.7,684.8 375.6,685.1 377.5,685.3 379.4,685.6 381.4,685.9 383.8,686.3 386.3,686.9 388.9,687.6 391.5,688.2 394.0,688.9 396.5,689.5 398.9,690.0 401.1,690.3 402.6,690.4 404.0,690.5 405.4,690.6 406.7,690.6 408.0,690.5 409.3,690.4 410.6,690.2 412.0,689.9 413.8,689.3 415.7,688.5 417.6,687.5 419.6,686.5 421.5,685.4 423.5,684.4 425.4,683.4 427.3,682.7 428.9,682.2 430.6,681.8 432.3,681.4 433.9,681.1 435.6,680.9 437.1,680.6 438.6,680.4 440.0,680.1 440.9,679.9 441.7,679.6 442.5,679.4 443.2,679.2 444.0,679.0 444.8,678.8 445.6,678.7 446.6,678.6 448.6,678.7 450.9,678.9 453.5,679.3 456.1,679.8 458.8,680.4 461.5,681.0 464.0,681.7 466.2,682.3 467.7,682.8 469.1,683.3 470.4,683.9 471.6,684.5 472.9,685.1 474.2,685.7 475.6,686.2 477.1,686.7 479.5,687.3 482.1,688.0 485.0,688.6 487.9,689.1 490.8,689.6 493.7,690.0 496.5,690.3 499.0,690.4 500.8,690.4 502.5,690.4 504.1,690.3 505.7,690.2 507.2,690.0 508.8,689.7 510.4,689.3 512.0,688.9 513.9,688.3 515.8,687.5 517.8,686.5 519.7,685.5 521.7,684.5 523.6,683.4 525.5,682.3 527.3,681.2 529.0,680.1 530.6,678.9 532.2,677.7 533.7,676.4 535.3,675.2 536.9,674.1 538.6,673.2 540.4,672.5 542.4,672.0 544.5,671.6 546.7,671.5 548.9,671.4 551.2,671.5 553.5,671.6 555.7,671.8 557.9,672.0 560.1,672.2 562.4,672.5 564.7,672.8 566.9,673.2 569.1,673.7 571.3,674.3 573.4,675.0 575.4,675.8 577.2,676.8 578.9,678.0 580.5,679.4 582.0,680.9 583.6,682.3 585.1,683.7 586.8,685.0 588.5,686.0 590.3,686.8 592.1,687.4 593.9,687.9 595.8,688.3 597.8,688.7 599.7,689.0 601.7,689.5 603.8,690.0 606.4,690.8 609.2,691.6 612.0,692.5 614.9,693.4 617.8,694.3 620.6,695.1 623.2,695.9 625.6,696.5 627.1,696.9 628.5,697.2 629.8,697.5 631.0,697.8 632.3,698.0 633.6,698.3 635.0,698.5 636.5,698.7 638.9,698.9 641.4,699.1 644.1,699.2 646.9,699.3 649.8,699.4 652.7,699.5 655.5,699.6 658.3,699.8 661.0,700.0 663.6,700.3 666.1,700.6 668.7,700.9 671.3,701.3 674.1,701.5 677.0,701.8 680.2,702.0 685.6,702.2 691.8,702.3 698.4,702.3 705.3,702.3 712.1,702.3 718.7,702.2 724.7,702.1 730.0,702.0 732.9,701.9 735.6,701.8 738.0,701.7 740.4,701.6 742.7,701.5 745.0,701.4 747.3,701.4 749.7,701.4 752.1,701.5 754.4,701.8 756.7,702.1 758.9,702.4 761.3,702.7 763.8,703.0 766.4,703.3 769.3,703.4 774.5,703.5 780.3,703.5 786.6,703.3 793.3,703.1 799.9,702.8 806.5,702.4 812.7,701.9 818.4,701.4 822.5,700.9 826.4,700.4 830.2,699.8 833.8,699.1 837.4,698.4 840.9,697.8 844.4,697.1 847.9,696.5 851.0,696.0 854.2,695.4 857.3,694.8 860.4,694.2 863.4,693.7 866.2,693.2 869.0,692.9 871.5,692.6 873.2,692.5 874.8,692.6 876.3,692.7 877.8,692.8 879.2,692.9 880.6,692.9 881.9,692.8 883.3,692.6 884.6,692.2 885.8,691.7 887.0,691.0 888.2,690.3 889.3,689.6 890.5,688.9 891.8,688.2 893.1,687.7 894.7,687.2 896.4,686.7 898.1,686.4 899.9,686.0 901.7,685.7 903.5,685.4 905.2,685.0 906.9,684.7 908.3,684.3 909.7,683.9 911.1,683.5 912.4,683.1 913.7,682.7 915.1,682.4 916.4,682.3 917.7,682.4 919.1,682.8 920.4,683.5 921.8,684.4 923.1,685.4 924.4,686.4 925.8,687.3 927.1,687.9 928.5,688.2 930.0,688.2 931.5,687.9 933.0,687.5 934.5,686.9 936.0,686.2 937.5,685.4 938.9,684.6 940.3,683.7 941.7,682.7 943.0,681.6 944.3,680.3 945.6,679.0 946.8,677.6 947.9,676.1 949.0,674.5 950.1,672.9 951.3,670.8 952.4,668.5 953.5,666.1 954.5,663.5 955.4,660.9 956.3,658.4 957.1,655.8 957.9,653.3 958.6,651.0 959.3,648.8 959.9,646.6 960.4,644.3 961.0,642.1 961.5,639.8 962.0,637.4 962.5,635.0 963.1,632.1 963.6,629.0 964.1,625.8 964.6,622.6 965.0,619.3 965.5,616.1 966.0,613.0 966.5,610.0 967.0,607.4 967.5,605.0 968.0,602.7 968.5,600.3 969.0,597.9 969.5,595.5 970.0,592.8 970.5,590.0 971.2,585.5 971.9,580.7 972.6,575.5 973.3,570.2 974.0,564.7 974.7,559.2 975.4,553.7 976.0,548.3 976.6,542.9 977.2,537.5 977.8,532.0 978.3,526.6 978.9,521.1 979.4,515.6 979.9,510.2 980.4,504.7 980.9,499.2 981.3,493.8 981.8,488.3 982.2,482.9 982.6,477.4 983.1,471.9 983.5,466.5 984.0,461.0 984.5,455.5 985.1,450.1 985.6,444.6 986.2,439.1 986.8,433.7 987.3,428.2 987.9,422.8 988.4,417.3 988.9,411.8 989.4,406.3 989.9,400.7 990.3,395.2 990.8,389.6 991.2,384.2 991.6,378.9 992.0,373.7 992.3,369.3 992.6,365.0 992.9,360.7 993.2,356.5 993.5,352.4 993.7,348.3 994.0,344.2 994.2,340.0 994.4,335.9 994.5,331.9 994.7,328.0 994.8,324.0 994.9,320.0 995.0,315.9 995.1,311.8 995.3,307.5 995.5,302.3 995.8,297.0 996.1,291.6 996.3,286.1 996.6,280.5 996.9,274.9 997.2,269.3 997.5,263.8 997.8,258.3 998.0,252.6 998.3,246.9 998.6,241.2 998.8,235.6 999.1,230.2 999.4,225.0 999.7,220.1 1000.0,216.6 1000.2,213.2 1000.5,209.9 1000.8,206.7 1001.1,203.6 1001.4,200.7 1001.7,197.8 1001.9,195.0 1002.1,192.9 1002.2,190.9 1002.3,188.9 1002.4,187.0 1002.5,185.1 1002.7,183.3 1002.8,181.6 1003.0,180.0 1003.1,178.9 1003.3,177.7 1003.5,176.7 1003.6,175.7 1003.8,174.7 1004.0,173.7 1004.2,172.8 1004.5,172.0 1004.7,171.4 1005.0,170.7 1005.2,170.0 1005.5,169.4 1005.8,168.8 1006.0,168.4 1006.3,168.1 1006.6,168.0 1006.9,168.1 1007.2,168.4 1007.5,168.8 1007.8,169.4 1008.1,170.0 1008.4,170.7 1008.7,171.4 1009.0,172.0 1009.3,172.8 1009.6,173.7 1009.9,174.7 1010.1,175.6 1010.3,176.7 1010.5,177.7 1010.8,178.9 1011.0,180.0 1011.3,181.6 1011.6,183.3 1011.9,185.1 1012.2,187.0 1012.6,188.9 1012.9,190.9 1013.2,192.9 1013.5,195.0 1013.9,197.8 1014.4,200.7 1014.8,203.6 1015.2,206.7 1015.7,209.9 1016.1,213.2 1016.6,216.6 1017.1,220.1 1017.8,225.0 1018.5,230.3 1019.2,235.8 1019.9,241.5 1020.7,247.2 1021.5,252.9 1022.2,258.4 1023.0,263.8 1023.7,268.5 1024.4,273.2 1025.1,277.9 1025.9,282.4 1026.6,287.0 1027.3,291.4 1028.1,295.9 1028.8,300.2 1029.5,304.1 1030.1,307.9 1030.8,311.6 1031.5,315.3 1032.1,319.0 1032.8,322.7 1033.5,326.3 1034.2,330.0 1034.9,333.7 1035.6,337.3 1036.4,340.9 1037.1,344.6 1037.9,348.2 1038.6,351.8 1039.4,355.5 1040.1,359.1 1040.8,362.7 1041.6,366.3 1042.3,369.9 1043.1,373.4 1043.8,377.0 1044.5,380.7 1045.2,384.4 1045.9,388.2 1046.6,392.6 1047.3,397.1 1047.9,401.8 1048.5,406.5 1049.2,411.2 1049.8,415.8 1050.4,420.3 1051.0,424.6 1051.5,428.2 1051.9,431.9 1052.3,435.5 1052.6,439.1 1053.1,442.5 1053.7,445.6 1054.4,448.4 1055.3,450.8 1056.0,452.0 1056.8,453.1 1057.6,454.1 1058.5,454.9 1059.4,455.7 1060.2,456.5 1061.1,457.3 1061.9,458.1 1062.6,458.8 1063.3,459.5 1064.0,460.1 1064.6,460.7 1065.3,461.4 1065.9,462.1 1066.5,463.0 1067.0,463.9 1067.7,465.7 1068.3,467.8 1068.8,470.1 1069.1,472.5 1069.5,475.1 1069.8,477.7 1070.2,480.3 1070.6,482.8 1071.1,485.5 1071.5,488.1 1072.0,490.9 1072.5,493.6 1072.9,496.4 1073.4,499.1 1073.8,501.9 1074.3,504.7 1074.7,507.8 1075.0,511.1 1075.3,514.6 1075.6,518.0 1075.9,521.3 1076.4,524.1 1077.0,526.4 1077.9,528.0 1078.4,528.5 1078.9,528.9 1079.4,529.2 1080.0,529.4 1080.6,529.5 1081.2,529.6 1081.8,529.5 1082.3,529.4 1083.2,528.7 1084.0,527.5 1084.8,525.8 1085.6,524.0 1086.4,522.2 1087.2,520.7 1088.0,519.6 1088.8,519.2 1089.5,519.4 1090.1,519.9 1090.8,520.7 1091.4,521.7 1092.1,522.8 1092.7,524.0 1093.3,525.3 1093.9,526.5 1094.7,528.4 1095.5,530.6 1096.2,532.9 1096.9,535.4 1097.6,537.9 1098.3,540.5 1099.0,543.0 1099.7,545.4 1100.4,547.6 1101.2,549.7 1102.0,551.8 1102.8,553.9 1103.5,556.1 1104.3,558.2 1105.0,560.5 1105.6,562.9 1106.3,566.0 1106.9,569.2 1107.4,572.6 1108.0,576.0 1108.4,579.5 1108.9,583.0 1109.4,586.5 1109.9,590.0 1110.4,593.6 1111.0,597.2 1111.5,600.9 1112.0,604.6 1112.5,608.3 1113.1,611.9 1113.7,615.5 1114.3,619.1 1114.9,622.5 1115.6,625.9 1116.3,629.4 1117.0,632.8 1117.7,636.1 1118.5,639.4 1119.3,642.4 1120.1,645.3 1120.7,647.4 1121.4,649.3 1122.0,651.2 1122.7,653.1 1123.4,654.8 1124.2,656.5 1125.0,658.2 1125.9,659.9 1126.9,661.5 1127.9,663.1 1129.0,664.6 1130.2,666.1 1131.4,667.6 1132.5,669.0 1133.7,670.3 1134.7,671.5 1135.4,672.3 1136.1,673.0 1136.7,673.7 1137.4,674.3 1138.0,675.0 1138.7,675.6 1139.3,676.2 1140.0,676.9 1140.8,677.7 1141.5,678.5 1142.3,679.4 1143.1,680.2 1143.9,681.0 1144.7,681.8 1145.5,682.6 1146.3,683.2 1146.9,683.6 1147.4,684.0 1147.9,684.4 1148.5,684.7 1149.0,685.0 1149.6,685.3 1150.2,685.6 1150.9,686.0 1152.1,686.6 1153.5,687.3 1154.9,688.0 1156.5,688.7 1158.1,689.3 1159.9,690.0 1161.8,690.6 1163.7,691.1 1166.9,691.7 1170.4,692.2 1174.3,692.6 1178.3,692.9 1182.4,693.1 1186.6,693.4 1190.7,693.7 1194.7,694.2 1198.7,694.8 1202.8,695.5 1206.8,696.3 1210.9,697.1 1215.0,697.8 1219.1,698.6 1223.3,699.2 1227.6,699.7 1232.5,700.1 1237.5,700.3 1242.7,700.4 1247.9,700.5 1253.0,700.5 1258.1,700.6 1263.0,700.7 1267.7,701.0 1271.3,701.3 1274.7,701.7 1278.0,702.2 1281.2,702.7 1284.4,703.1 1287.8,703.6 1291.3,704.0 1295.1,704.3 1300.6,704.6 1306.6,704.8 1312.8,704.9 1319.2,705.0 1325.8,705.0 1332.4,705.1 1338.9,705.1 1345.3,705.2" fill="none" stroke="#00ff00" stroke-width="6.0" stroke-linejoin="round" stroke-linecap="butt" shape-rendering="crispEdges"/>
<polyline points="160.9,566.9 163.6,566.9 166.3,566.8 169.0,566.8 171.6,566.8 174.3,566.7 177.1,566.7 179.9,566.8 182.8,566.9 186.5,567.1 190.4,567.5 194.4,567.9 198.5,568.4 202.6,568.8 206.4,569.2 210.1,569.6 213.3,569.8 215.2,569.9 216.9,570.0 218.4,570.0 219.9,570.0 221.4,570.0 223.0,570.0 224.6,569.9 226.4,569.8 229.0,569.5 231.8,569.0 234.7,568.4 237.8,567.8 240.9,567.1 244.0,566.6 247.2,566.1 250.4,565.9 254.1,565.9 258.0,566.1 262.0,566.5 266.0,566.9 270.0,567.4 273.9,567.9 277.6,568.3 281.0,568.5 283.4,568.6 285.8,568.8 288.0,568.9 290.2,569.0 292.3,569.0 294.4,569.0 296.4,568.8 298.5,568.5 300.5,568.0 302.4,567.4 304.3,566.6 306.2,565.8 308.1,564.9 310.0,564.0 311.9,563.3 313.8,562.6 315.7,562.0 317.7,561.5 319.7,561.0 321.6,560.6 323.6,560.2 325.5,559.8 327.3,559.5 329.0,559.3 330.2,559.2 331.4,559.3 332.5,559.4 333.5,559.5 334.6,559.7 335.7,559.7 336.7,559.6 337.8,559.3 339.2,558.6 340.5,557.6 341.8,556.3 343.2,555.0 344.5,553.6 345.9,552.4 347.3,551.3 348.7,550.6 350.0,550.3 351.4,550.2 352.8,550.3 354.2,550.4 355.6,550.6 357.0,550.7 358.3,550.8 359.6,550.6 360.7,550.3 361.8,549.8 362.9,549.2 363.9,548.6 365.0,548.0 366.1,547.5 367.2,547.0 368.3,546.6 369.6,546.3 370.9,546.0 372.3,545.8 373.7,545.7 375.1,545.6 376.5,545.6 377.9,545.7 379.3,545.8 380.7,546.1 382.0,546.5 383.4,547.0 384.7,547.6 386.0,548.1 387.4,548.7 388.8,549.2 390.2,549.5 391.8,549.8 393.3,549.9 395.0,550.1 396.6,550.1 398.2,550.2 399.9,550.2 401.6,550.1 403.3,550.1 405.2,550.1 407.2,550.0 409.2,550.0 411.2,549.9 413.2,549.8 415.1,549.6 416.9,549.2 418.6,548.8 419.8,548.3 421.0,547.7 422.1,546.9 423.1,546.1 424.1,545.4 425.2,544.7 426.2,544.1 427.3,543.6 428.4,543.3 429.4,543.2 430.5,543.1 431.5,543.1 432.6,543.1 433.7,543.1 434.9,543.0 436.0,542.9 437.4,542.6 438.7,542.2 440.1,541.7 441.5,541.2 443.0,540.7 444.5,540.2 446.0,539.9 447.6,539.7 449.8,539.7 452.1,539.8 454.6,540.1 457.1,540.4 459.6,540.9 462.0,541.4 464.2,542.0 466.2,542.6 467.4,543.1 468.6,543.6 469.6,544.2 470.5,544.8 471.5,545.4 472.5,546.0 473.6,546.5 474.9,547.0 476.9,547.6 479.2,548.1 481.6,548.5 484.1,548.9 486.8,549.3 489.4,549.5 492.0,549.7 494.6,549.8 497.3,549.8 500.2,549.8 503.0,549.7 505.9,549.5 508.8,549.2 511.5,548.9 514.0,548.5 516.4,548.0 518.0,547.6 519.4,547.2 520.8,546.7 522.0,546.2 523.3,545.7 524.6,545.1 525.9,544.4 527.3,543.7 529.1,542.6 531.0,541.2 532.8,539.7 534.7,538.2 536.7,536.7 538.6,535.3 540.6,534.1 542.6,533.2 544.5,532.7 546.4,532.4 548.3,532.3 550.2,532.3 552.2,532.4 554.1,532.5 556.0,532.4 557.9,532.3 559.6,532.0 561.4,531.7 563.1,531.3 564.8,530.8 566.5,530.4 568.1,530.1 569.6,529.9 571.0,529.9 571.9,530.0 572.8,530.1 573.6,530.2 574.4,530.4 575.2,530.7 575.9,531.0 576.7,531.3 577.6,531.7 578.8,532.4 580.1,533.3 581.4,534.3 582.7,535.4 584.1,536.5 585.5,537.5 587.0,538.5 588.5,539.3 590.2,540.0 592.0,540.6 593.9,541.0 595.8,541.4 597.7,541.8 599.7,542.2 601.7,542.7 603.8,543.2 606.3,544.0 609.0,544.8 611.7,545.7 614.4,546.6 617.2,547.5 620.0,548.4 622.8,549.2 625.6,549.8 628.3,550.3 631.0,550.7 633.6,551.1 636.3,551.4 639.0,551.7 641.7,551.9 644.5,552.2 647.4,552.4 650.8,552.7 654.3,553.0 657.8,553.2 661.4,553.4 665.1,553.6 668.7,553.8 672.3,554.0 675.8,554.1 679.1,554.2 682.4,554.2 685.7,554.2 688.9,554.2 692.2,554.2 695.4,554.2 698.7,554.1 702.0,554.1 705.4,554.0 708.7,554.0 712.0,553.9 715.3,553.8 718.7,553.7 722.3,553.6 726.0,553.5 730.0,553.4 736.5,553.3 743.7,553.1 751.4,553.0 759.4,552.9 767.4,552.7 775.2,552.6 782.5,552.4 789.0,552.1 793.2,551.9 797.1,551.7 800.8,551.5 804.3,551.3 807.8,551.0 811.3,550.8 814.8,550.4 818.4,550.1 822.1,549.7 825.9,549.3 829.6,548.8 833.4,548.3 837.1,547.8 840.8,547.3 844.4,546.7 847.9,546.2 851.0,545.7 854.2,545.1 857.3,544.5 860.4,543.9 863.4,543.4 866.2,542.9 869.0,542.5 871.5,542.2 873.2,542.1 874.8,542.2 876.3,542.2 877.8,542.4 879.3,542.5 880.6,542.5 882.0,542.4 883.3,542.2 884.4,541.9 885.3,541.4 886.2,540.9 887.1,540.4 888.0,539.8 889.0,539.3 890.0,538.7 891.1,538.3 892.8,537.8 894.7,537.4 896.7,537.0 898.8,536.6 900.9,536.3 903.0,536.0 905.0,535.7 906.9,535.4 908.4,535.1 909.8,534.7 911.2,534.3 912.5,533.9 913.8,533.5 915.1,533.3 916.4,533.2 917.7,533.4 919.0,533.9 920.2,534.7 921.4,535.7 922.6,536.8 923.8,537.9 925.0,539.0 926.2,539.8 927.5,540.3 928.8,540.5 930.1,540.6 931.5,540.5 932.9,540.3 934.3,540.0 935.7,539.6 937.0,539.3 938.3,538.9 939.4,538.6 940.4,538.3 941.5,537.9 942.5,537.6 943.5,537.1 944.4,536.6 945.3,536.1 946.2,535.4 947.1,534.5 947.9,533.5 948.6,532.4 949.3,531.2 949.9,529.9 950.6,528.6 951.3,527.3 952.0,526.0 952.9,524.4 953.8,522.8 954.8,521.1 955.8,519.4 956.7,517.6 957.6,515.8 958.5,514.1 959.3,512.4 960.0,510.8 960.7,509.3 961.3,507.7 962.0,506.1 962.6,504.5 963.1,503.0 963.7,501.5 964.2,500.0 964.6,498.8 965.0,497.6 965.4,496.5 965.8,495.3 966.2,494.2 966.5,492.9 966.9,491.6 967.3,490.1 968.0,487.2 968.7,484.1 969.5,480.6 970.2,476.9 971.0,473.0 971.7,469.1 972.4,465.0 973.1,461.0 973.9,456.0 974.7,450.7 975.4,445.3 976.1,439.7 976.8,434.1 977.5,428.4 978.2,422.8 978.9,417.3 979.6,411.8 980.3,406.3 981.0,400.7 981.6,395.2 982.3,389.6 982.9,384.2 983.5,378.9 984.0,373.7 984.4,369.3 984.8,365.0 985.1,360.7 985.4,356.5 985.7,352.4 986.0,348.3 986.2,344.2 986.5,340.0 986.7,335.9 986.9,331.9 987.1,328.0 987.2,324.0 987.4,320.0 987.5,315.9 987.7,311.8 988.0,307.5 988.4,302.3 988.8,297.0 989.3,291.6 989.8,286.1 990.3,280.5 990.8,274.9 991.3,269.3 991.7,263.8 992.1,258.3 992.5,252.9 992.8,247.4 993.2,242.0 993.5,236.5 993.9,231.0 994.2,225.6 994.6,220.1 995.0,214.6 995.3,209.0 995.7,203.3 996.1,197.7 996.4,192.1 996.8,186.7 997.1,181.4 997.5,176.4 997.8,172.5 998.1,168.7 998.3,165.1 998.6,161.6 998.9,158.1 999.2,154.5 999.4,151.0 999.7,147.3 1000.0,143.3 1000.3,139.1 1000.5,134.8 1000.8,130.5 1001.1,126.3 1001.3,122.3 1001.6,118.5 1001.9,115.0 1002.1,112.8 1002.3,110.8 1002.5,108.8 1002.7,106.9 1002.8,105.1 1003.1,103.4 1003.3,101.7 1003.5,100.0 1003.7,98.6 1003.9,97.3 1004.1,95.9 1004.3,94.6 1004.5,93.4 1004.7,92.2 1005.0,91.0 1005.3,90.0 1005.5,89.3 1005.8,88.5 1006.1,87.7 1006.3,86.9 1006.6,86.3 1006.9,85.8 1007.2,85.4 1007.5,85.3 1007.8,85.4 1008.1,85.8 1008.4,86.3 1008.7,86.9 1009.0,87.7 1009.2,88.5 1009.5,89.3 1009.8,90.0 1010.2,91.0 1010.5,92.2 1010.9,93.4 1011.2,94.6 1011.5,95.9 1011.8,97.3 1012.1,98.6 1012.4,100.0 1012.7,101.7 1013.1,103.4 1013.4,105.2 1013.7,107.1 1014.0,109.0 1014.3,110.9 1014.6,112.9 1014.9,115.0 1015.3,117.8 1015.8,120.7 1016.2,123.6 1016.7,126.7 1017.1,129.9 1017.6,133.2 1018.1,136.6 1018.6,140.1 1019.3,145.0 1019.9,150.3 1020.6,155.8 1021.3,161.4 1022.1,167.1 1022.8,172.8 1023.6,178.4 1024.4,183.7 1025.2,188.4 1025.9,193.0 1026.8,197.5 1027.6,201.9 1028.4,206.4 1029.3,210.8 1030.1,215.4 1031.0,220.1 1032.0,225.4 1032.9,230.8 1033.9,236.4 1035.0,242.0 1036.0,247.5 1037.0,253.1 1038.0,258.5 1039.0,263.8 1039.9,268.5 1040.8,273.2 1041.8,277.9 1042.7,282.5 1043.6,287.0 1044.5,291.5 1045.4,295.9 1046.3,300.2 1047.1,304.1 1047.8,307.9 1048.5,311.8 1049.2,315.6 1049.9,319.3 1050.6,322.8 1051.4,326.2 1052.1,329.3 1052.6,331.4 1053.0,333.5 1053.4,335.6 1053.8,337.6 1054.3,339.4 1054.9,341.1 1055.6,342.5 1056.4,343.8 1057.2,344.5 1058.0,345.1 1059.0,345.5 1060.0,345.8 1061.0,346.1 1062.0,346.4 1062.9,346.9 1063.7,347.5 1064.5,348.3 1065.2,349.1 1065.8,350.0 1066.4,351.0 1066.9,352.1 1067.5,353.2 1068.0,354.5 1068.5,355.8 1069.3,358.3 1070.0,361.2 1070.6,364.3 1071.2,367.7 1071.8,371.1 1072.3,374.5 1072.9,377.8 1073.5,380.9 1074.0,383.6 1074.5,386.5 1074.9,389.5 1075.3,392.4 1075.8,395.1 1076.4,397.3 1077.1,399.0 1077.9,399.9 1078.4,400.1 1078.9,400.1 1079.5,400.0 1080.1,399.9 1080.6,399.6 1081.2,399.2 1081.8,398.8 1082.3,398.4 1083.1,397.3 1083.9,395.7 1084.5,393.7 1085.2,391.6 1085.9,389.6 1086.5,387.8 1087.3,386.6 1088.1,386.0 1088.8,386.0 1089.5,386.3 1090.3,386.8 1091.0,387.4 1091.8,388.2 1092.5,389.2 1093.2,390.1 1093.9,391.1 1094.9,392.9 1095.7,395.1 1096.5,397.5 1097.1,400.2 1097.8,403.0 1098.4,405.8 1099.0,408.7 1099.7,411.5 1100.5,414.7 1101.2,418.1 1102.0,421.5 1102.7,425.0 1103.4,428.6 1104.2,432.1 1104.9,435.7 1105.6,439.2 1106.3,442.8 1107.1,446.4 1107.8,450.1 1108.5,453.7 1109.2,457.4 1110.0,461.0 1110.7,464.7 1111.4,468.3 1112.1,472.0 1112.8,475.7 1113.5,479.5 1114.2,483.3 1114.9,487.0 1115.6,490.6 1116.4,494.1 1117.2,497.4 1117.8,500.0 1118.5,502.5 1119.1,505.0 1119.8,507.4 1120.5,509.7 1121.2,512.0 1122.1,514.2 1123.0,516.3 1123.9,518.1 1124.9,519.9 1126.0,521.6 1127.1,523.2 1128.2,524.8 1129.4,526.4 1130.6,527.9 1131.8,529.4 1133.0,530.8 1134.2,532.2 1135.5,533.5 1136.7,534.8 1138.0,536.1 1139.4,537.3 1140.7,538.5 1142.0,539.6 1143.2,540.6 1144.5,541.7 1145.7,542.7 1147.0,543.6 1148.2,544.5 1149.5,545.4 1150.8,546.2 1152.1,546.9 1153.3,547.5 1154.4,547.9 1155.5,548.4 1156.6,548.7 1157.8,549.1 1159.0,549.4 1160.4,549.7 1161.9,550.1 1165.1,550.7 1168.7,551.3 1172.8,551.9 1177.1,552.4 1181.5,553.0 1186.0,553.5 1190.5,554.1 1194.7,554.7 1198.8,555.4 1202.9,556.2 1207.1,557.0 1211.2,557.8 1215.3,558.6 1219.4,559.3 1223.5,560.0 1227.6,560.5 1231.5,560.9 1235.4,561.1 1239.4,561.3 1243.3,561.4 1247.1,561.5 1251.0,561.6 1254.8,561.8 1258.6,562.0 1262.1,562.3 1265.5,562.6 1268.8,563.0 1272.2,563.3 1275.5,563.7 1278.9,564.1 1282.4,564.4 1286.0,564.7 1290.4,565.0 1294.9,565.3 1299.6,565.5 1304.4,565.8 1309.1,566.0 1313.8,566.2 1318.2,566.3 1322.4,566.5 1325.5,566.6 1328.5,566.7 1331.4,566.8 1334.2,566.8 1336.9,566.9 1339.7,567.0 1342.5,567.0 1345.3,567.1" fill="none" stroke="#000000" stroke-width="6.0" stroke-linejoin="round" stroke-linecap="butt" shape-rendering="crispEdges"/>
</g>
<defs><clipPath id="clipb"><rect x="160.0" y="39.45" width="1185.8" height="946.4499999999999"/></clipPath><clipPath id="clipc"><rect x="146.9" y="1536.5" width="1213.6" height="971.9000000000001"/></clipPath></defs>
<line x1="160.0" y1="37" x2="160.0" y2="999.8" stroke="#000" stroke-width="4.0"/>
<line x1="1345.8" y1="37" x2="1345.8" y2="999.8" stroke="#000" stroke-width="3.8"/>
<line x1="158" y1="39.45" x2="1347.7" y2="39.45" stroke="#000" stroke-width="4.9"/>
<line x1="158" y1="985.9" x2="1347.7" y2="985.9" stroke="#000" stroke-width="4.0"/>
<line x1="205.3" y1="985.9" x2="205.3" y2="1004.7" stroke="#000" stroke-width="4.6"/>
<text x="205.3" y="1056.5" font-family="Liberation Sans" font-size="50" text-anchor="middle">3800</text>
<line x1="396.1" y1="985.9" x2="396.1" y2="1004.7" stroke="#000" stroke-width="4.6"/>
<text x="396.1" y="1056.5" font-family="Liberation Sans" font-size="50" text-anchor="middle">3600</text>
<line x1="587.0" y1="985.9" x2="587.0" y2="1004.7" stroke="#000" stroke-width="4.6"/>
<text x="587.0" y="1056.5" font-family="Liberation Sans" font-size="50" text-anchor="middle">3400</text>
<line x1="777.8" y1="985.9" x2="777.8" y2="1004.7" stroke="#000" stroke-width="4.6"/>
<text x="777.8" y="1056.5" font-family="Liberation Sans" font-size="50" text-anchor="middle">3200</text>
<line x1="968.7" y1="985.9" x2="968.7" y2="1004.7" stroke="#000" stroke-width="4.6"/>
<text x="968.7" y="1056.5" font-family="Liberation Sans" font-size="50" text-anchor="middle">3000</text>
<line x1="1159.5" y1="985.9" x2="1159.5" y2="1004.7" stroke="#000" stroke-width="4.6"/>
<text x="1159.5" y="1056.5" font-family="Liberation Sans" font-size="50" text-anchor="middle">2800</text>
<line x1="300.7" y1="985.9" x2="300.7" y2="995.8" stroke="#000" stroke-width="4.6"/>
<line x1="491.6" y1="985.9" x2="491.6" y2="995.8" stroke="#000" stroke-width="4.6"/>
<line x1="682.4" y1="985.9" x2="682.4" y2="995.8" stroke="#000" stroke-width="4.6"/>
<line x1="873.2" y1="985.9" x2="873.2" y2="995.8" stroke="#000" stroke-width="4.6"/>
<line x1="1064.1" y1="985.9" x2="1064.1" y2="995.8" stroke="#000" stroke-width="4.6"/>
<line x1="1254.9" y1="985.9" x2="1254.9" y2="995.8" stroke="#000" stroke-width="4.6"/>
<line x1="176.2" y1="78.4" x2="287.8" y2="78.4" stroke="#00ff00" stroke-width="4.8"/>
<text x="301" y="95.5" font-family="Liberation Sans" font-size="50.3">PBAT</text>
<line x1="176.2" y1="139.6" x2="287.8" y2="139.6" stroke="#000000" stroke-width="4.8"/>
<text x="301" y="156.7" font-family="Liberation Sans" font-size="50.3">PBS25/PBAT75</text>
<line x1="176.2" y1="200.8" x2="287.8" y2="200.8" stroke="#0000ff" stroke-width="4.8"/>
<text x="301" y="217.9" font-family="Liberation Sans" font-size="50.3">PBS50/PBAT50</text>
<line x1="176.2" y1="262.0" x2="287.8" y2="262.0" stroke="#00ffff" stroke-width="4.8"/>
<text x="301" y="279.1" font-family="Liberation Sans" font-size="50.3">PBS75/PBAT25</text>
<line x1="176.2" y1="323.2" x2="287.8" y2="323.2" stroke="#ff0000" stroke-width="4.8"/>
<text x="301" y="340.3" font-family="Liberation Sans" font-size="50.3">PBS</text>
<text x="58.7" y="115.8" font-family="Liberation Sans" font-weight="bold" font-size="90">b</text>
<text transform="translate(87,505.75) rotate(-90)" x="0" y="0" font-family="Liberation Sans" font-size="50" text-anchor="middle">Absorbance</text>
<text x="529.5" y="1134.9" font-family="Liberation Sans" font-size="49.7">Wavenumbers (cm</text>
<text x="944.8" y="1109.8" font-family="Liberation Sans" font-size="30.3">-1</text>
<text x="974.5" y="1134.9" font-family="Liberation Sans" font-size="49.7">)</text>
<text x="541" y="459.7" font-family="Liberation Sans" font-size="50">3430</text>
<text x="1095" y="80.2" font-family="Liberation Sans" font-size="50">2960</text>
<text x="1073" y="249.9" font-family="Liberation Sans" font-size="50">2873</text>
<line x1="560.5" y1="483" x2="560.5" y2="560" stroke="#000" stroke-width="1.1"/>
<line x1="559.5" y1="560" x2="559.5" y2="922.5" stroke="#000" stroke-width="1.1"/>
<line x1="1021.2" y1="80.7" x2="1079" y2="64.2" stroke="#000" stroke-width="1.3"/>
<line x1="1090.5" y1="270.8" x2="1090.5" y2="371.5" stroke="#000" stroke-width="1.1"/>
<g clip-path="url(#clipc)">
<polyline points="147.3,2476.3 164.7,2476.0 182.2,2475.7 199.7,2475.5 217.2,2475.2 234.6,2474.9 251.9,2474.6 268.9,2474.3 285.6,2474.0 300.9,2473.7 316.3,2473.3 331.8,2473.0 346.9,2472.7 361.7,2472.3 376.0,2471.9 389.4,2471.5 402.0,2471.1 410.3,2470.8 418.1,2470.5 425.6,2470.2 432.8,2469.9 439.7,2469.6 446.5,2469.2 453.3,2468.9 460.0,2468.5 465.8,2468.2 471.5,2467.8 477.1,2467.5 482.7,2467.2 488.1,2466.8 493.5,2466.4 498.8,2466.0 504.0,2465.6 508.7,2465.2 513.3,2464.8 517.9,2464.3 522.5,2463.9 526.9,2463.4 531.3,2463.0 535.7,2462.5 540.0,2462.0 543.8,2461.6 547.6,2461.2 551.4,2460.7 555.1,2460.3 558.7,2459.9 562.4,2459.4 565.9,2458.9 569.5,2458.3 572.8,2457.7 576.1,2457.1 579.3,2456.5 582.5,2455.9 585.6,2455.2 588.8,2454.5 591.9,2453.7 595.0,2453.0 597.9,2452.3 600.8,2451.6 603.6,2450.9 606.3,2450.1 609.1,2449.4 612.0,2448.5 614.9,2447.6 618.0,2446.5 622.1,2445.0 626.5,2443.4 631.0,2441.7 635.6,2439.9 640.2,2438.0 644.6,2435.9 648.6,2433.7 652.3,2431.5 654.9,2429.6 657.4,2427.7 659.7,2425.6 661.9,2423.5 663.9,2421.4 665.9,2419.2 667.8,2416.9 669.7,2414.5 671.6,2412.0 673.3,2409.5 674.9,2406.9 676.5,2404.3 678.1,2401.6 679.6,2398.7 681.2,2395.8 682.8,2392.7 685.0,2388.6 687.2,2384.2 689.4,2379.5 691.6,2374.8 693.8,2369.9 696.0,2365.1 698.2,2360.2 700.3,2355.5 702.3,2350.9 704.3,2346.3 706.2,2341.8 708.1,2337.2 710.0,2332.6 711.9,2327.9 713.7,2323.2 715.6,2318.4 717.6,2313.1 719.5,2307.7 721.5,2302.2 723.4,2296.6 725.3,2291.1 727.2,2285.5 729.1,2280.1 730.9,2274.8 732.6,2270.0 734.3,2265.3 735.9,2260.7 737.5,2256.1 739.2,2251.5 740.8,2246.9 742.4,2242.3 744.0,2237.6 745.7,2232.6 747.3,2227.5 749.0,2222.2 750.6,2217.0 752.2,2211.9 753.9,2207.0 755.5,2202.4 757.1,2198.3 758.2,2195.8 759.1,2193.4 760.1,2191.2 761.1,2189.1 762.1,2187.1 763.2,2185.1 764.4,2183.0 765.8,2180.9 767.8,2178.2 770.1,2175.5 772.6,2172.9 775.2,2170.2 777.9,2167.5 780.5,2164.7 783.1,2161.9 785.5,2159.0 787.8,2155.8 790.1,2152.2 792.2,2148.5 794.4,2144.8 796.5,2141.2 798.6,2137.9 800.7,2135.1 802.9,2132.8 804.2,2131.7 805.6,2130.8 806.9,2130.0 808.2,2129.3 809.5,2128.8 810.9,2128.3 812.3,2127.8 813.8,2127.4 815.7,2127.0 817.7,2126.7 819.7,2126.5 821.9,2126.3 824.0,2126.3 826.1,2126.3 828.1,2126.3 830.0,2126.3 831.4,2126.4 832.7,2126.5 833.9,2126.6 835.1,2126.8 836.3,2127.0 837.6,2127.2 838.9,2127.3 840.4,2127.4 842.6,2127.5 845.1,2127.5 847.7,2127.5 850.3,2127.4 853.0,2127.3 855.7,2127.2 858.3,2127.0 860.8,2126.8 862.9,2126.6 865.0,2126.4 867.1,2126.1 869.1,2125.8 871.1,2125.5 873.1,2125.1 875.1,2124.7 877.1,2124.3 879.2,2123.8 881.2,2123.1 883.3,2122.4 885.4,2121.6 887.4,2120.9 889.5,2120.2 891.5,2119.6 893.4,2119.2 895.0,2119.0 896.5,2118.9 898.1,2118.9 899.6,2118.9 901.0,2118.9 902.5,2118.9 904.1,2118.8 905.6,2118.6 907.3,2118.2 909.1,2117.5 911.0,2116.7 912.8,2115.9 914.6,2115.1 916.4,2114.6 918.0,2114.4 919.6,2114.7 921.2,2115.6 922.7,2117.0 924.1,2118.8 925.4,2120.8 926.7,2123.1 928.0,2125.3 929.3,2127.5 930.6,2129.5 932.0,2131.3 933.4,2133.2 934.9,2135.0 936.3,2136.8 937.7,2138.6 939.1,2140.5 940.4,2142.3 941.7,2144.2 942.9,2146.0 944.1,2147.8 945.2,2149.7 946.3,2151.5 947.4,2153.4 948.4,2155.2 949.3,2157.1 950.2,2159.0 951.0,2160.8 951.6,2162.6 952.2,2164.5 952.8,2166.3 953.3,2168.2 953.9,2170.0 954.4,2171.9 955.0,2173.7 955.6,2175.5 956.2,2177.3 956.9,2179.1 957.5,2180.9 958.1,2182.7 958.8,2184.6 959.4,2186.5 960.1,2188.5 960.9,2191.0 961.8,2193.7 962.6,2196.5 963.5,2199.3 964.3,2202.1 965.2,2205.0 966.0,2207.8 966.8,2210.6 967.6,2213.4 968.3,2216.1 969.0,2218.9 969.8,2221.6 970.5,2224.4 971.2,2227.2 971.9,2229.9 972.7,2232.7 973.5,2235.5 974.3,2238.3 975.1,2241.0 976.0,2243.8 976.8,2246.6 977.6,2249.4 978.5,2252.1 979.3,2254.9 980.2,2257.7 981.0,2260.6 981.9,2263.4 982.8,2266.3 983.7,2269.1 984.5,2271.9 985.3,2274.5 986.0,2277.0 986.5,2278.8 986.9,2280.5 987.3,2282.2 987.7,2283.8 988.1,2285.3 988.5,2286.9 988.9,2288.4 989.3,2290.0 989.7,2291.5 990.2,2292.9 990.7,2294.3 991.1,2295.7 991.6,2297.1 992.1,2298.6 992.6,2300.2 993.1,2301.8 993.8,2304.2 994.6,2306.8 995.4,2309.5 996.2,2312.3 997.0,2315.2 997.8,2318.1 998.5,2320.9 999.3,2323.7 1000.0,2326.5 1000.7,2329.3 1001.4,2332.1 1002.1,2334.9 1002.8,2337.7 1003.4,2340.4 1004.1,2343.0 1004.8,2345.5 1005.4,2347.5 1005.9,2349.4 1006.5,2351.2 1007.0,2353.0 1007.6,2354.8 1008.2,2356.5 1008.8,2358.3 1009.5,2360.1 1010.2,2361.9 1010.9,2363.8 1011.6,2365.6 1012.4,2367.4 1013.2,2369.3 1014.0,2371.1 1015.0,2372.8 1016.0,2374.6 1017.2,2376.5 1018.6,2378.4 1020.0,2380.3 1021.5,2382.1 1023.1,2383.9 1024.6,2385.7 1026.2,2387.5 1027.7,2389.2 1029.1,2390.7 1030.5,2392.2 1031.8,2393.6 1033.2,2395.0 1034.6,2396.5 1036.1,2397.9 1037.5,2399.4 1039.0,2401.0 1040.8,2403.1 1042.7,2405.4 1044.6,2407.8 1046.5,2410.3 1048.5,2412.7 1050.5,2415.0 1052.5,2417.1 1054.6,2418.9 1056.3,2420.2 1058.1,2421.4 1059.9,2422.4 1061.8,2423.3 1063.6,2424.2 1065.4,2425.1 1067.3,2426.0 1069.1,2426.9 1070.9,2427.9 1072.7,2428.8 1074.5,2429.8 1076.4,2430.8 1078.2,2431.7 1080.0,2432.6 1081.8,2433.4 1083.7,2434.2 1085.5,2434.9 1087.3,2435.4 1089.1,2436.0 1090.9,2436.5 1092.7,2437.0 1094.5,2437.4 1096.4,2437.8 1098.2,2438.2 1100.0,2438.6 1101.7,2438.9 1103.5,2439.1 1105.2,2439.4 1107.0,2439.6 1108.8,2439.8 1110.8,2440.1 1112.8,2440.4 1115.8,2440.9 1119.0,2441.4 1122.3,2441.9 1125.8,2442.5 1129.3,2443.1 1132.9,2443.6 1136.5,2444.2 1140.0,2444.8 1143.6,2445.4 1147.2,2446.1 1150.7,2446.7 1154.3,2447.4 1158.0,2448.0 1161.8,2448.7 1165.9,2449.2 1170.1,2449.7 1176.5,2450.2 1183.5,2450.6 1190.9,2450.9 1198.5,2451.1 1206.2,2451.3 1213.7,2451.5 1220.8,2451.7 1227.4,2452.0 1232.2,2452.2 1236.8,2452.4 1241.2,2452.6 1245.6,2452.8 1249.8,2453.1 1253.8,2453.4 1257.8,2453.8 1261.7,2454.3 1264.7,2454.9 1267.5,2455.5 1270.0,2456.3 1272.6,2457.1 1275.2,2457.8 1278.0,2458.6 1281.1,2459.4 1284.6,2460.0 1291.9,2461.0 1300.4,2461.8 1309.7,2462.5 1319.6,2463.1 1329.8,2463.7 1340.2,2464.3 1350.4,2464.9 1360.1,2465.5" fill="none" stroke="#000000" stroke-width="6.0" stroke-linejoin="round" stroke-linecap="butt" shape-rendering="crispEdges"/>
<polyline points="147.3,2351.2 160.9,2350.8 174.5,2350.5 188.1,2350.1 201.6,2349.8 215.2,2349.4 228.9,2349.0 242.6,2348.7 256.4,2348.3 270.9,2348.0 285.7,2347.6 300.5,2347.3 315.5,2347.0 330.3,2346.7 344.9,2346.3 359.1,2345.9 372.9,2345.3 384.6,2344.7 396.3,2344.1 407.9,2343.4 419.2,2342.7 430.2,2341.9 440.8,2341.1 450.8,2340.3 460.2,2339.5 466.4,2338.9 472.3,2338.3 477.9,2337.7 483.3,2337.1 488.6,2336.5 493.7,2335.9 498.8,2335.3 504.0,2334.6 508.7,2334.0 513.3,2333.4 517.9,2332.7 522.5,2332.1 526.9,2331.4 531.3,2330.8 535.7,2330.1 540.0,2329.5 543.8,2329.0 547.6,2328.4 551.3,2328.0 555.0,2327.5 558.6,2326.9 562.2,2326.3 565.8,2325.6 569.3,2324.8 572.7,2323.9 576.2,2322.8 579.6,2321.7 583.0,2320.5 586.3,2319.2 589.5,2318.0 592.6,2316.8 595.5,2315.6 597.7,2314.7 599.9,2313.8 602.0,2312.9 604.0,2311.9 605.9,2311.0 607.8,2310.1 609.5,2309.3 611.2,2308.4 612.3,2307.8 613.3,2307.3 614.3,2306.9 615.2,2306.4 616.1,2305.9 617.1,2305.3 618.0,2304.6 619.1,2303.8 621.1,2302.0 623.2,2299.9 625.5,2297.4 627.8,2294.8 630.2,2292.1 632.6,2289.3 635.0,2286.7 637.4,2284.2 639.7,2282.0 642.1,2279.8 644.6,2277.6 647.0,2275.5 649.4,2273.4 651.7,2271.3 653.9,2269.2 655.8,2267.2 657.2,2265.7 658.4,2264.3 659.6,2262.9 660.7,2261.5 661.8,2260.1 662.8,2258.6 663.9,2257.1 664.9,2255.4 666.2,2253.2 667.4,2250.8 668.6,2248.4 669.7,2245.8 670.9,2243.2 672.0,2240.6 673.1,2238.1 674.1,2235.7 675.0,2233.7 675.8,2231.9 676.6,2230.1 677.4,2228.3 678.1,2226.4 678.9,2224.5 679.8,2222.3 680.7,2220.0 682.3,2215.6 684.0,2210.6 685.8,2205.2 687.6,2199.4 689.6,2193.5 691.6,2187.7 693.7,2181.9 695.9,2176.5 698.1,2171.3 700.5,2166.1 702.9,2160.9 705.4,2155.7 707.9,2150.7 710.5,2145.9 713.1,2141.4 715.6,2137.2 717.5,2134.4 719.3,2131.7 721.2,2129.3 723.0,2127.0 724.9,2124.7 726.8,2122.4 728.8,2120.1 730.9,2117.6 733.4,2114.6 736.0,2111.3 738.7,2107.9 741.4,2104.6 744.2,2101.3 747.0,2098.3 749.9,2095.7 752.7,2093.5 754.9,2092.1 757.0,2090.8 759.2,2089.6 761.5,2088.6 763.7,2087.8 765.9,2087.2 768.0,2087.0 770.2,2087.0 772.5,2087.7 774.8,2089.0 777.1,2090.9 779.4,2092.9 781.6,2094.8 783.8,2096.5 785.8,2097.6 787.6,2097.9 788.9,2097.6 790.1,2096.9 791.2,2095.9 792.3,2094.8 793.3,2093.4 794.3,2092.0 795.3,2090.6 796.4,2089.2 797.8,2087.2 799.1,2084.7 800.4,2081.9 801.7,2079.2 803.0,2076.5 804.3,2074.3 805.8,2072.6 807.3,2071.7 808.5,2071.6 809.8,2072.0 811.1,2072.8 812.5,2073.7 813.9,2074.8 815.3,2075.8 816.7,2076.6 818.2,2077.2 819.8,2077.5 821.5,2077.5 823.2,2077.5 824.9,2077.3 826.7,2077.2 828.5,2077.1 830.3,2077.1 832.2,2077.4 834.6,2078.0 837.1,2079.0 839.6,2080.1 842.2,2081.3 844.8,2082.6 847.4,2083.8 850.0,2084.8 852.6,2085.6 855.1,2086.2 857.7,2086.6 860.3,2087.0 862.9,2087.3 865.5,2087.5 868.0,2087.7 870.6,2087.8 873.0,2088.0 875.1,2088.1 877.2,2088.0 879.3,2087.9 881.4,2087.7 883.4,2087.7 885.4,2087.8 887.4,2088.0 889.3,2088.6 891.5,2089.8 893.6,2091.5 895.8,2093.6 897.9,2095.8 899.9,2097.9 901.9,2099.8 903.8,2101.2 905.6,2101.9 906.7,2102.0 907.8,2101.9 908.8,2101.6 909.9,2101.3 910.9,2100.8 911.8,2100.2 912.8,2099.5 913.7,2098.8 914.8,2097.6 915.9,2096.1 916.9,2094.4 917.9,2092.5 918.8,2090.7 919.8,2089.0 920.8,2087.6 921.9,2086.6 922.6,2086.2 923.3,2085.8 924.0,2085.6 924.8,2085.4 925.5,2085.3 926.3,2085.2 927.1,2085.2 928.0,2085.2 929.5,2085.3 931.2,2085.4 933.1,2085.7 935.0,2086.1 937.0,2086.6 938.9,2087.2 940.7,2087.8 942.3,2088.6 943.8,2089.4 945.1,2090.3 946.4,2091.2 947.7,2092.3 948.9,2093.4 950.1,2094.7 951.3,2096.2 952.5,2097.8 954.4,2101.0 956.3,2104.8 958.1,2109.1 959.9,2113.8 961.6,2118.6 963.3,2123.4 965.0,2128.1 966.7,2132.5 968.3,2136.4 969.9,2140.2 971.4,2143.9 973.0,2147.7 974.5,2151.4 976.0,2155.2 977.5,2159.0 979.0,2163.0 980.6,2167.4 982.1,2171.9 983.6,2176.5 985.2,2181.2 986.7,2185.9 988.2,2190.5 989.7,2195.1 991.2,2199.7 992.7,2204.2 994.2,2208.7 995.7,2213.3 997.2,2217.9 998.7,2222.3 1000.2,2226.6 1001.8,2230.6 1003.4,2234.4 1004.6,2237.0 1005.7,2239.5 1006.9,2241.9 1008.0,2244.2 1009.3,2246.4 1010.6,2248.5 1012.0,2250.6 1013.6,2252.7 1015.6,2254.9 1017.8,2257.0 1020.1,2259.1 1022.6,2261.1 1025.0,2263.0 1027.5,2265.0 1029.8,2267.0 1031.9,2269.0 1033.6,2270.8 1035.2,2272.7 1036.8,2274.6 1038.3,2276.5 1039.7,2278.3 1041.2,2280.1 1042.7,2281.8 1044.2,2283.3 1045.4,2284.5 1046.6,2285.6 1047.8,2286.6 1049.0,2287.6 1050.2,2288.6 1051.5,2289.5 1052.9,2290.5 1054.4,2291.4 1056.6,2292.6 1059.0,2293.8 1061.6,2295.0 1064.2,2296.2 1067.0,2297.3 1069.6,2298.4 1072.2,2299.5 1074.7,2300.6 1076.7,2301.5 1078.5,2302.5 1080.2,2303.4 1081.9,2304.3 1083.7,2305.2 1085.6,2306.1 1087.7,2307.0 1090.0,2307.8 1094.5,2309.1 1099.7,2310.2 1105.5,2311.3 1111.5,2312.3 1117.8,2313.3 1124.0,2314.3 1130.1,2315.3 1135.8,2316.3 1140.8,2317.3 1145.6,2318.3 1150.3,2319.4 1155.1,2320.4 1159.8,2321.4 1164.6,2322.3 1169.6,2323.1 1174.7,2323.8 1181.0,2324.4 1187.6,2324.8 1194.3,2325.0 1201.2,2325.2 1208.1,2325.3 1214.8,2325.5 1221.3,2325.7 1227.4,2326.1 1232.1,2326.5 1236.7,2326.9 1241.1,2327.3 1245.5,2327.8 1249.7,2328.3 1253.8,2328.8 1257.8,2329.4 1261.7,2330.0 1264.7,2330.6 1267.4,2331.2 1270.0,2331.9 1272.6,2332.6 1275.2,2333.4 1278.0,2334.1 1281.1,2334.7 1284.6,2335.3 1291.9,2336.2 1300.4,2337.0 1309.7,2337.7 1319.6,2338.2 1329.8,2338.8 1340.2,2339.3 1350.4,2339.9 1360.1,2340.5" fill="none" stroke="#00ff00" stroke-width="6.0" stroke-linejoin="round" stroke-linecap="butt" shape-rendering="crispEdges"/>
<polyline points="147.3,2239.7 168.3,2239.8 189.4,2239.9 210.6,2240.1 231.7,2240.2 252.8,2240.3 273.7,2240.4 294.3,2240.5 314.7,2240.5 333.7,2240.5 353.0,2240.5 372.3,2240.4 391.4,2240.4 410.0,2240.3 427.8,2240.1 444.6,2239.9 460.2,2239.7 470.3,2239.5 479.8,2239.4 489.0,2239.2 497.7,2239.0 506.1,2238.7 514.3,2238.4 522.2,2238.0 530.0,2237.6 536.0,2237.2 541.7,2236.8 547.2,2236.4 552.5,2235.9 557.8,2235.4 563.1,2234.8 568.3,2234.1 573.7,2233.3 579.2,2232.4 584.8,2231.5 590.4,2230.5 596.0,2229.4 601.6,2228.1 607.0,2226.8 612.2,2225.2 617.3,2223.4 621.8,2221.5 626.3,2219.5 630.7,2217.2 635.0,2214.8 639.2,2212.4 643.1,2209.9 646.7,2207.4 650.1,2204.9 652.4,2203.1 654.6,2201.3 656.5,2199.6 658.4,2197.8 660.2,2195.9 661.9,2194.0 663.6,2191.9 665.4,2189.6 667.6,2186.5 669.6,2183.1 671.6,2179.6 673.6,2175.8 675.5,2172.0 677.4,2168.0 679.4,2164.0 681.5,2160.0 684.0,2155.3 686.5,2150.6 689.0,2145.7 691.6,2140.8 694.2,2135.7 696.8,2130.6 699.4,2125.4 701.9,2120.1 704.7,2114.0 707.5,2107.7 710.4,2101.2 713.2,2094.6 715.9,2088.0 718.6,2081.5 721.2,2075.2 723.7,2069.2 725.7,2064.3 727.6,2059.6 729.5,2054.9 731.3,2050.4 733.1,2045.9 734.9,2041.5 736.6,2037.1 738.3,2032.8 739.8,2028.9 741.4,2025.1 742.9,2021.3 744.4,2017.5 745.9,2013.8 747.3,2010.3 748.6,2006.9 749.9,2003.7 750.8,2001.5 751.6,1999.4 752.3,1997.4 753.1,1995.4 753.8,1993.6 754.5,1991.7 755.2,1989.9 756.0,1988.0 756.7,1986.3 757.5,1984.6 758.3,1983.0 759.0,1981.4 759.8,1979.8 760.6,1978.2 761.3,1976.6 762.0,1975.0 762.6,1973.5 763.2,1972.0 763.8,1970.5 764.4,1969.0 764.9,1967.5 765.5,1966.0 766.1,1964.5 766.8,1963.0 767.6,1961.4 768.4,1959.7 769.3,1958.0 770.2,1956.4 771.1,1954.7 772.0,1953.1 772.9,1951.5 773.8,1949.9 774.6,1948.5 775.3,1947.1 776.0,1945.7 776.7,1944.3 777.5,1943.0 778.2,1941.7 779.0,1940.3 779.9,1939.0 780.9,1937.6 781.9,1936.3 783.0,1934.9 784.1,1933.6 785.3,1932.2 786.4,1930.9 787.6,1929.5 788.7,1928.1 790.0,1926.5 791.3,1924.9 792.6,1923.2 793.9,1921.5 795.2,1919.8 796.4,1918.1 797.6,1916.5 798.7,1915.0 799.5,1913.8 800.1,1912.7 800.8,1911.6 801.4,1910.5 802.0,1909.4 802.6,1908.4 803.3,1907.4 804.0,1906.4 804.8,1905.5 805.6,1904.6 806.5,1903.7 807.3,1902.8 808.3,1902.0 809.2,1901.2 810.2,1900.5 811.3,1899.9 812.5,1899.4 813.8,1899.0 815.2,1898.7 816.6,1898.5 818.1,1898.3 819.5,1898.0 820.9,1897.6 822.2,1897.0 823.6,1896.2 824.9,1895.1 826.2,1894.0 827.5,1892.8 828.7,1891.5 830.0,1890.3 831.2,1889.2 832.4,1888.2 833.4,1887.5 834.3,1886.8 835.2,1886.1 836.1,1885.5 837.1,1884.9 838.0,1884.3 839.0,1883.7 840.0,1883.1 841.2,1882.4 842.5,1881.8 843.8,1881.3 845.1,1880.7 846.5,1880.1 847.8,1879.4 849.2,1878.6 850.6,1877.7 852.5,1876.1 854.5,1874.1 856.4,1871.8 858.4,1869.4 860.4,1867.1 862.5,1864.8 864.6,1862.9 866.9,1861.4 869.1,1860.3 871.4,1859.5 873.8,1858.7 876.3,1858.2 878.7,1857.8 881.1,1857.5 883.2,1857.3 885.2,1857.3 886.4,1857.3 887.4,1857.4 888.4,1857.6 889.4,1857.8 890.3,1858.1 891.3,1858.4 892.3,1858.9 893.4,1859.4 895.6,1860.8 898.0,1862.9 900.6,1865.4 903.3,1868.1 906.0,1870.7 908.7,1873.0 911.3,1874.7 913.7,1875.7 915.3,1875.9 916.8,1875.9 918.3,1875.7 919.8,1875.3 921.3,1874.7 922.8,1874.1 924.4,1873.4 926.0,1872.6 928.7,1871.0 931.6,1868.8 934.7,1866.1 937.9,1863.4 941.0,1860.8 943.8,1858.7 946.3,1857.5 948.4,1857.3 949.6,1857.9 950.5,1858.8 951.3,1860.1 952.0,1861.7 952.7,1863.5 953.2,1865.4 953.9,1867.5 954.5,1869.6 955.7,1874.0 956.8,1879.2 957.7,1885.0 958.6,1891.3 959.6,1897.8 960.5,1904.2 961.5,1910.5 962.7,1916.4 963.9,1921.7 965.2,1926.9 966.6,1932.0 968.0,1937.1 969.4,1942.2 970.8,1947.2 972.2,1952.1 973.5,1957.0 974.7,1961.4 975.9,1965.7 977.2,1969.9 978.4,1974.1 979.5,1978.2 980.7,1982.4 981.8,1986.5 982.8,1990.6 983.7,1994.5 984.5,1998.4 985.3,2002.3 986.0,2006.1 986.7,2009.9 987.4,2013.7 988.1,2017.4 988.9,2021.1 989.6,2024.4 990.4,2027.6 991.1,2030.8 991.9,2034.0 992.6,2037.2 993.4,2040.3 994.2,2043.4 995.0,2046.6 995.9,2049.9 996.8,2053.3 997.7,2056.8 998.6,2060.2 999.6,2063.5 1000.5,2066.7 1001.3,2069.5 1002.1,2072.0 1002.5,2073.2 1002.9,2074.3 1003.2,2075.2 1003.6,2076.1 1003.9,2077.0 1004.3,2077.9 1004.7,2078.9 1005.1,2080.0 1005.7,2081.6 1006.4,2083.3 1007.1,2085.2 1007.9,2087.0 1008.6,2088.9 1009.4,2090.9 1010.2,2092.7 1010.9,2094.6 1011.6,2096.4 1012.3,2098.2 1012.9,2100.1 1013.6,2101.9 1014.3,2103.7 1015.0,2105.5 1015.8,2107.3 1016.7,2109.1 1017.8,2111.0 1018.9,2112.8 1020.2,2114.7 1021.5,2116.5 1022.8,2118.3 1024.2,2120.1 1025.5,2121.9 1026.9,2123.7 1028.3,2125.5 1029.8,2127.3 1031.2,2129.2 1032.7,2131.0 1034.2,2132.8 1035.7,2134.6 1037.2,2136.4 1038.6,2138.2 1040.0,2140.1 1041.4,2142.0 1042.7,2143.9 1044.1,2145.9 1045.4,2147.8 1046.8,2149.6 1048.1,2151.3 1049.5,2152.8 1050.6,2153.9 1051.6,2154.9 1052.6,2155.8 1053.6,2156.7 1054.7,2157.5 1055.8,2158.4 1057.0,2159.2 1058.2,2160.0 1059.8,2161.0 1061.5,2161.9 1063.2,2162.8 1065.0,2163.7 1066.9,2164.6 1068.8,2165.5 1070.8,2166.4 1072.8,2167.3 1075.3,2168.4 1078.0,2169.6 1080.7,2170.7 1083.5,2171.9 1086.3,2173.0 1089.2,2174.1 1091.9,2175.1 1094.6,2176.1 1096.9,2176.9 1099.2,2177.7 1101.4,2178.4 1103.5,2179.1 1105.8,2179.8 1108.0,2180.5 1110.4,2181.2 1112.9,2181.9 1116.3,2182.8 1119.8,2183.8 1123.5,2184.8 1127.2,2185.8 1131.1,2186.7 1135.0,2187.6 1138.9,2188.3 1142.7,2188.8 1146.6,2189.1 1150.6,2189.1 1154.7,2188.9 1158.7,2188.7 1162.8,2188.4 1166.8,2188.3 1170.8,2188.4 1174.7,2188.8 1178.5,2189.5 1182.2,2190.5 1185.9,2191.7 1189.6,2192.9 1193.2,2194.3 1196.9,2195.6 1200.7,2196.8 1204.5,2197.9 1208.6,2198.9 1212.8,2199.8 1216.9,2200.7 1221.2,2201.6 1225.4,2202.4 1229.8,2203.2 1234.2,2204.0 1238.8,2204.8 1244.1,2205.7 1249.5,2206.6 1255.0,2207.5 1260.6,2208.4 1266.3,2209.3 1272.2,2210.1 1278.3,2210.9 1284.6,2211.7 1293.1,2212.7 1302.1,2213.6 1311.5,2214.4 1321.2,2215.2 1331.0,2216.1 1340.8,2216.9 1350.5,2217.7 1360.1,2218.5" fill="none" stroke="#0000ff" stroke-width="6.0" stroke-linejoin="round" stroke-linecap="butt" shape-rendering="crispEdges"/>
<polyline points="147.3,2091.2 168.6,2091.0 190.4,2090.8 212.4,2090.7 234.4,2090.5 255.9,2090.3 276.6,2090.1 296.4,2089.9 314.7,2089.7 327.0,2089.5 338.5,2089.4 349.5,2089.2 360.1,2089.1 370.5,2088.9 380.8,2088.7 391.3,2088.5 402.0,2088.3 413.1,2088.1 424.6,2087.8 436.2,2087.5 447.7,2087.2 459.0,2086.9 469.8,2086.6 480.0,2086.3 489.3,2086.0 495.1,2085.8 500.5,2085.6 505.6,2085.5 510.5,2085.3 515.3,2085.1 520.1,2084.9 525.0,2084.7 530.0,2084.4 535.4,2084.1 540.8,2083.8 546.3,2083.5 551.8,2083.1 557.3,2082.7 562.8,2082.2 568.2,2081.6 573.7,2080.9 579.2,2080.1 584.8,2079.2 590.4,2078.3 596.0,2077.2 601.5,2076.1 607.0,2074.8 612.2,2073.3 617.3,2071.7 621.8,2070.0 626.3,2068.2 630.7,2066.2 635.0,2064.2 639.1,2062.0 643.1,2059.8 646.7,2057.5 650.1,2055.3 652.4,2053.6 654.5,2051.9 656.4,2050.2 658.2,2048.5 660.0,2046.7 661.8,2044.9 663.5,2043.0 665.4,2041.1 667.6,2038.8 669.7,2036.5 671.9,2034.1 674.1,2031.6 676.3,2029.1 678.5,2026.6 680.7,2024.0 682.8,2021.5 685.0,2018.9 687.2,2016.2 689.5,2013.5 691.7,2010.7 693.8,2008.0 695.9,2005.3 697.9,2002.6 699.8,2000.0 701.3,1997.9 702.6,1995.8 703.9,1993.7 705.2,1991.7 706.4,1989.6 707.6,1987.6 708.8,1985.6 710.0,1983.5 711.2,1981.4 712.4,1979.3 713.6,1977.1 714.7,1975.0 715.9,1972.9 717.0,1970.9 718.1,1969.0 719.1,1967.3 719.8,1966.3 720.4,1965.4 721.1,1964.5 721.7,1963.7 722.3,1962.9 723.0,1962.1 723.7,1961.1 724.4,1960.0 725.9,1957.6 727.5,1954.8 729.3,1951.8 731.1,1948.5 733.0,1945.1 734.9,1941.6 736.8,1938.2 738.6,1935.0 740.4,1931.8 742.2,1928.6 743.9,1925.3 745.7,1922.0 747.5,1918.8 749.2,1915.7 750.9,1912.7 752.6,1910.0 753.8,1908.1 755.1,1906.2 756.3,1904.5 757.5,1902.8 758.6,1901.2 759.8,1899.6 760.9,1898.0 762.0,1896.5 762.9,1895.3 763.7,1894.0 764.6,1892.9 765.4,1891.7 766.2,1890.6 767.0,1889.5 767.8,1888.4 768.6,1887.3 769.3,1886.4 770.0,1885.4 770.7,1884.6 771.3,1883.7 772.0,1882.8 772.7,1881.9 773.5,1881.0 774.4,1880.0 775.8,1878.5 777.4,1876.8 779.1,1875.1 780.8,1873.3 782.7,1871.5 784.5,1869.7 786.3,1868.0 788.0,1866.4 789.5,1865.0 790.9,1863.6 792.3,1862.3 793.8,1861.0 795.2,1859.7 796.7,1858.5 798.2,1857.3 799.7,1856.2 801.3,1855.2 802.8,1854.3 804.5,1853.5 806.1,1852.7 807.8,1851.9 809.5,1851.2 811.1,1850.4 812.8,1849.7 814.4,1849.0 816.1,1848.4 817.8,1847.8 819.4,1847.3 821.1,1846.7 822.7,1846.0 824.3,1845.4 825.9,1844.6 827.4,1843.8 828.9,1842.9 830.4,1841.9 831.8,1840.9 833.2,1839.9 834.6,1838.8 836.1,1837.7 837.5,1836.6 839.2,1835.3 840.9,1834.0 842.6,1832.6 844.3,1831.2 846.0,1829.7 847.6,1828.1 849.1,1826.5 850.6,1824.7 852.1,1822.5 853.5,1820.2 854.7,1817.7 856.0,1815.1 857.1,1812.5 858.3,1809.8 859.5,1807.1 860.8,1804.4 862.3,1801.4 863.8,1798.3 865.3,1795.1 866.8,1792.0 868.4,1788.8 869.9,1785.7 871.5,1782.7 873.0,1779.9 874.3,1777.6 875.5,1775.2 876.8,1772.8 878.0,1770.5 879.3,1768.4 880.5,1766.4 881.9,1764.8 883.2,1763.6 884.0,1763.0 884.9,1762.5 885.7,1762.1 886.6,1761.9 887.4,1761.7 888.4,1761.6 889.3,1761.5 890.3,1761.6 892.0,1762.1 893.9,1763.1 895.9,1764.5 898.0,1766.0 900.0,1767.5 902.0,1768.7 903.9,1769.5 905.6,1769.7 906.8,1769.4 907.9,1768.9 908.9,1768.2 909.9,1767.4 910.9,1766.4 911.8,1765.2 912.8,1763.9 913.7,1762.6 915.4,1759.7 916.9,1756.0 918.4,1751.8 919.9,1747.3 921.4,1742.7 922.9,1738.3 924.4,1734.3 926.0,1731.0 927.1,1728.9 928.3,1726.8 929.5,1724.7 930.7,1722.8 931.9,1721.1 933.0,1719.8 934.1,1719.0 935.1,1718.8 936.2,1719.5 937.2,1721.0 938.2,1723.3 939.1,1726.0 940.0,1729.2 940.8,1732.5 941.5,1735.9 942.3,1739.1 943.3,1743.8 944.2,1749.0 945.0,1754.5 945.7,1760.2 946.4,1766.1 947.0,1772.1 947.7,1778.1 948.4,1784.0 949.2,1790.2 949.9,1796.4 950.7,1802.6 951.4,1809.0 952.1,1815.3 952.9,1821.8 953.7,1828.3 954.5,1834.9 955.4,1842.4 956.4,1850.1 957.4,1858.0 958.4,1865.9 959.4,1873.8 960.5,1881.6 961.6,1889.0 962.7,1896.1 963.6,1901.6 964.5,1906.9 965.5,1912.0 966.4,1917.0 967.4,1921.9 968.5,1926.9 969.6,1931.8 970.8,1936.8 972.2,1942.0 973.7,1947.3 975.3,1952.7 976.9,1958.0 978.6,1963.2 980.2,1968.3 981.7,1973.1 983.0,1977.6 983.8,1980.7 984.5,1983.7 985.2,1986.5 985.8,1989.3 986.4,1992.0 987.1,1994.7 988.0,1997.3 989.1,2000.0 990.5,2002.9 992.1,2005.8 993.8,2008.7 995.6,2011.6 997.6,2014.4 999.5,2017.2 1001.5,2019.8 1003.4,2022.4 1005.1,2024.6 1006.7,2026.8 1008.3,2029.0 1010.0,2031.0 1011.7,2033.0 1013.6,2035.0 1015.5,2036.9 1017.7,2038.7 1020.5,2040.8 1023.7,2042.8 1027.0,2044.7 1030.5,2046.6 1034.0,2048.3 1037.5,2050.0 1040.9,2051.6 1044.2,2053.0 1046.8,2054.1 1049.3,2055.2 1051.8,2056.1 1054.3,2057.0 1056.8,2057.8 1059.3,2058.6 1061.8,2059.4 1064.5,2060.1 1067.5,2060.9 1070.4,2061.6 1073.4,2062.3 1076.5,2062.9 1079.6,2063.5 1082.9,2064.0 1086.4,2064.6 1090.0,2065.1 1095.6,2065.9 1101.7,2066.7 1108.3,2067.4 1115.1,2068.1 1121.9,2068.7 1128.5,2069.2 1134.7,2069.6 1140.4,2069.7 1144.2,2069.6 1147.7,2069.3 1151.1,2068.8 1154.4,2068.3 1157.6,2067.9 1160.9,2067.5 1164.3,2067.3 1167.8,2067.4 1172.2,2067.9 1176.6,2068.7 1181.2,2069.8 1185.9,2071.0 1190.6,2072.2 1195.3,2073.4 1199.9,2074.5 1204.5,2075.4 1208.8,2076.0 1212.9,2076.6 1217.0,2077.0 1221.2,2077.5 1225.3,2077.8 1229.6,2078.2 1234.1,2078.5 1238.8,2078.9 1245.2,2079.4 1252.0,2079.9 1259.0,2080.3 1266.3,2080.8 1273.7,2081.2 1281.1,2081.6 1288.6,2082.0 1296.0,2082.3 1303.8,2082.6 1311.8,2082.9 1319.8,2083.1 1327.8,2083.3 1335.9,2083.5 1344.0,2083.7 1352.1,2083.9 1360.1,2084.1" fill="none" stroke="#00ffff" stroke-width="6.0" stroke-linejoin="round" stroke-linecap="butt" shape-rendering="crispEdges"/>
<polyline points="147.3,1971.0 174.0,1970.9 201.2,1970.9 228.6,1970.9 255.9,1970.8 282.8,1970.8 309.1,1970.7 334.3,1970.6 358.3,1970.4 376.7,1970.2 395.0,1970.0 413.0,1969.8 430.4,1969.5 447.0,1969.2 462.5,1968.9 476.7,1968.6 489.3,1968.3 495.5,1968.1 501.1,1968.0 506.2,1967.8 511.0,1967.7 515.7,1967.5 520.3,1967.2 525.0,1967.0 530.0,1966.6 535.5,1966.1 541.3,1965.5 547.2,1964.9 553.1,1964.2 558.8,1963.5 564.2,1962.8 569.2,1962.3 573.7,1961.8 576.1,1961.6 578.2,1961.5 580.2,1961.4 582.1,1961.3 583.9,1961.2 585.8,1961.1 587.8,1960.8 590.0,1960.5 593.3,1959.9 596.7,1959.2 600.4,1958.4 604.1,1957.5 607.9,1956.5 611.7,1955.3 615.5,1954.1 619.1,1952.7 622.9,1951.1 626.8,1949.3 630.6,1947.4 634.5,1945.4 638.2,1943.3 641.8,1941.1 645.1,1938.9 648.2,1936.7 650.4,1935.0 652.4,1933.3 654.3,1931.5 656.0,1929.7 657.7,1927.9 659.4,1926.1 661.1,1924.1 662.8,1922.1 664.7,1919.8 666.5,1917.4 668.4,1914.9 670.2,1912.3 672.0,1909.7 673.7,1907.1 675.5,1904.4 677.3,1901.8 679.1,1899.1 681.0,1896.4 682.8,1893.7 684.6,1890.9 686.4,1888.2 688.3,1885.4 690.1,1882.6 691.9,1879.9 693.7,1877.2 695.5,1874.5 697.4,1871.8 699.2,1869.1 701.0,1866.4 702.8,1863.7 704.6,1860.9 706.4,1858.1 708.3,1855.1 710.1,1852.1 711.9,1849.0 713.8,1845.9 715.6,1842.8 717.4,1839.6 719.2,1836.5 721.0,1833.3 722.8,1830.1 724.7,1826.9 726.5,1823.6 728.4,1820.4 730.2,1817.1 732.0,1813.8 733.8,1810.5 735.6,1807.1 737.4,1803.5 739.2,1799.9 741.0,1796.2 742.8,1792.4 744.6,1788.7 746.4,1785.0 748.2,1781.5 750.1,1778.0 751.9,1774.9 753.6,1771.8 755.4,1768.8 757.2,1765.8 759.0,1762.9 760.9,1760.1 762.8,1757.3 764.7,1754.7 766.4,1752.5 768.1,1750.4 769.9,1748.4 771.6,1746.4 773.4,1744.5 775.3,1742.6 777.2,1740.7 779.2,1738.7 781.6,1736.4 784.2,1733.9 786.8,1731.4 789.6,1729.0 792.3,1726.6 795.1,1724.4 797.9,1722.3 800.7,1720.5 803.1,1719.2 805.5,1718.1 808.0,1717.1 810.5,1716.2 813.0,1715.3 815.4,1714.5 817.7,1713.6 820.0,1712.7 821.9,1711.9 823.8,1711.1 825.6,1710.3 827.4,1709.5 829.2,1708.6 830.9,1707.7 832.6,1706.7 834.3,1705.5 836.2,1704.0 838.1,1702.3 839.9,1700.5 841.7,1698.6 843.5,1696.6 845.2,1694.5 846.9,1692.4 848.5,1690.2 850.2,1687.7 851.8,1685.0 853.4,1682.3 854.9,1679.4 856.4,1676.5 857.8,1673.6 859.3,1670.7 860.8,1667.8 862.3,1664.8 863.9,1661.6 865.4,1658.4 866.9,1655.2 868.4,1652.1 869.9,1649.0 871.5,1646.1 873.0,1643.4 874.3,1641.3 875.5,1639.2 876.8,1637.1 878.0,1635.1 879.3,1633.3 880.6,1631.6 881.9,1630.2 883.2,1629.1 884.1,1628.6 884.9,1628.1 885.7,1627.8 886.6,1627.5 887.4,1627.3 888.3,1627.2 889.3,1627.1 890.3,1627.1 892.0,1627.3 893.8,1627.8 895.9,1628.5 897.9,1629.3 900.0,1630.1 902.0,1630.7 903.9,1631.1 905.6,1631.1 906.8,1630.9 907.9,1630.5 908.9,1630.0 909.9,1629.4 910.8,1628.7 911.8,1627.9 912.7,1627.0 913.7,1626.0 915.3,1623.8 916.8,1621.0 918.3,1617.7 919.7,1614.2 921.2,1610.7 922.7,1607.4 924.3,1604.7 926.0,1602.6 927.1,1601.6 928.3,1600.7 929.5,1599.8 930.7,1599.1 931.9,1598.6 933.0,1598.3 934.1,1598.3 935.1,1598.5 936.4,1599.6 937.5,1601.6 938.5,1604.2 939.3,1607.3 940.1,1610.7 940.8,1614.3 941.5,1617.8 942.3,1621.0 943.2,1624.5 944.0,1628.1 944.8,1631.7 945.6,1635.4 946.3,1639.3 947.0,1643.2 947.7,1647.3 948.4,1651.5 949.2,1657.2 950.0,1663.3 950.7,1669.7 951.4,1676.2 952.1,1682.8 952.9,1689.5 953.7,1696.0 954.5,1702.5 955.4,1708.9 956.4,1715.4 957.4,1721.9 958.4,1728.3 959.5,1734.7 960.5,1741.1 961.6,1747.3 962.7,1753.4 963.7,1758.7 964.7,1764.0 965.6,1769.2 966.6,1774.3 967.7,1779.3 968.7,1784.3 969.7,1789.3 970.8,1794.2 971.8,1798.9 972.9,1803.5 973.9,1808.2 975.0,1812.8 976.1,1817.4 977.1,1821.7 978.2,1826.0 979.3,1830.0 980.1,1833.0 981.0,1835.9 981.8,1838.6 982.6,1841.3 983.4,1843.9 984.3,1846.5 985.2,1849.1 986.2,1851.8 987.3,1854.6 988.4,1857.4 989.5,1860.2 990.7,1862.9 991.9,1865.7 993.1,1868.4 994.4,1871.1 995.7,1873.7 997.0,1876.1 998.3,1878.5 999.6,1880.9 1000.9,1883.3 1002.3,1885.6 1003.7,1887.8 1005.2,1889.9 1006.6,1891.9 1007.8,1893.5 1009.0,1895.0 1010.2,1896.4 1011.5,1897.8 1012.8,1899.1 1014.1,1900.4 1015.4,1901.6 1016.8,1902.8 1018.2,1903.9 1019.7,1904.8 1021.2,1905.8 1022.8,1906.6 1024.4,1907.5 1025.9,1908.3 1027.5,1909.1 1029.1,1910.0 1030.7,1910.9 1032.3,1911.8 1033.9,1912.8 1035.6,1913.7 1037.2,1914.6 1038.8,1915.5 1040.5,1916.4 1042.2,1917.3 1044.0,1918.2 1045.8,1919.2 1047.6,1920.1 1049.5,1921.1 1051.3,1922.0 1053.2,1922.9 1055.0,1923.7 1056.8,1924.4 1058.3,1925.0 1059.8,1925.5 1061.3,1925.9 1062.8,1926.3 1064.2,1926.7 1065.8,1927.1 1067.4,1927.5 1069.1,1927.9 1071.5,1928.5 1074.1,1929.1 1076.8,1929.7 1079.6,1930.2 1082.5,1930.8 1085.4,1931.4 1088.2,1931.9 1091.0,1932.4 1093.7,1932.9 1096.4,1933.3 1099.1,1933.7 1101.9,1934.2 1104.6,1934.5 1107.3,1934.9 1110.0,1935.3 1112.8,1935.7 1115.6,1936.1 1118.5,1936.6 1121.4,1937.0 1124.3,1937.4 1127.1,1937.8 1130.0,1938.2 1132.9,1938.4 1135.8,1938.6 1138.7,1938.6 1141.6,1938.6 1144.5,1938.4 1147.4,1938.2 1150.3,1938.0 1153.2,1937.8 1156.0,1937.7 1158.7,1937.6 1161.1,1937.6 1163.3,1937.5 1165.6,1937.5 1167.8,1937.5 1170.0,1937.5 1172.2,1937.6 1174.6,1937.8 1177.0,1938.1 1180.2,1938.7 1183.4,1939.5 1186.8,1940.4 1190.2,1941.5 1193.7,1942.6 1197.3,1943.7 1200.9,1944.7 1204.5,1945.6 1208.5,1946.5 1212.6,1947.3 1216.7,1948.1 1220.8,1948.8 1225.1,1949.5 1229.5,1950.2 1234.1,1950.8 1238.8,1951.4 1245.2,1952.1 1252.0,1952.8 1259.0,1953.4 1266.3,1954.0 1273.7,1954.5 1281.1,1955.0 1288.6,1955.5 1296.0,1955.9 1303.8,1956.3 1311.8,1956.6 1319.8,1956.9 1327.8,1957.1 1335.9,1957.3 1344.0,1957.5 1352.1,1957.8 1360.1,1958.0" fill="none" stroke="#ff0000" stroke-width="6.0" stroke-linejoin="round" stroke-linecap="butt" shape-rendering="crispEdges"/>
</g>
<line x1="146.9" y1="1534" x2="146.9" y2="2510.9" stroke="#000" stroke-width="4.0"/>
<line x1="1360.4" y1="1534" x2="1360.4" y2="2510.9" stroke="#000" stroke-width="5.0"/>
<line x1="144.9" y1="1536.4" x2="1362.9" y2="1536.4" stroke="#000" stroke-width="4.85"/>
<line x1="144.9" y1="2508.55" x2="1362.9" y2="2508.55" stroke="#000" stroke-width="4.7"/>
<line x1="154.5" y1="2508.55" x2="154.5" y2="2527.7" stroke="#000" stroke-width="4.6"/>
<text transform="translate(155.5,2579.9) scale(1,1.036)" x="0" y="0" font-family="Liberation Sans" font-size="50.2" text-anchor="middle">1820</text>
<line x1="303.2" y1="2508.55" x2="303.2" y2="2527.7" stroke="#000" stroke-width="4.6"/>
<text transform="translate(304.2,2579.9) scale(1,1.036)" x="0" y="0" font-family="Liberation Sans" font-size="50.2" text-anchor="middle">1800</text>
<line x1="452.0" y1="2508.55" x2="452.0" y2="2527.7" stroke="#000" stroke-width="4.6"/>
<text transform="translate(453.0,2579.9) scale(1,1.036)" x="0" y="0" font-family="Liberation Sans" font-size="50.2" text-anchor="middle">1780</text>
<line x1="600.7" y1="2508.55" x2="600.7" y2="2527.7" stroke="#000" stroke-width="4.6"/>
<text transform="translate(601.7,2579.9) scale(1,1.036)" x="0" y="0" font-family="Liberation Sans" font-size="50.2" text-anchor="middle">1760</text>
<line x1="749.5" y1="2508.55" x2="749.5" y2="2527.7" stroke="#000" stroke-width="4.6"/>
<text transform="translate(750.5,2579.9) scale(1,1.036)" x="0" y="0" font-family="Liberation Sans" font-size="50.2" text-anchor="middle">1740</text>
<line x1="898.2" y1="2508.55" x2="898.2" y2="2527.7" stroke="#000" stroke-width="4.6"/>
<text transform="translate(899.2,2579.9) scale(1,1.036)" x="0" y="0" font-family="Liberation Sans" font-size="50.2" text-anchor="middle">1720</text>
<line x1="1046.9" y1="2508.55" x2="1046.9" y2="2527.7" stroke="#000" stroke-width="4.6"/>
<text transform="translate(1047.9,2579.9) scale(1,1.036)" x="0" y="0" font-family="Liberation Sans" font-size="50.2" text-anchor="middle">1700</text>
<line x1="1195.7" y1="2508.55" x2="1195.7" y2="2527.7" stroke="#000" stroke-width="4.6"/>
<text transform="translate(1196.7,2579.9) scale(1,1.036)" x="0" y="0" font-family="Liberation Sans" font-size="50.2" text-anchor="middle">1680</text>
<line x1="1344.4" y1="2508.55" x2="1344.4" y2="2527.7" stroke="#000" stroke-width="4.6"/>
<text transform="translate(1345.4,2579.9) scale(1,1.036)" x="0" y="0" font-family="Liberation Sans" font-size="50.2" text-anchor="middle">1660</text>
<line x1="228.9" y1="2508.55" x2="228.9" y2="2517.9" stroke="#000" stroke-width="4.6"/>
<line x1="377.6" y1="2508.55" x2="377.6" y2="2517.9" stroke="#000" stroke-width="4.6"/>
<line x1="526.4" y1="2508.55" x2="526.4" y2="2517.9" stroke="#000" stroke-width="4.6"/>
<line x1="675.1" y1="2508.55" x2="675.1" y2="2517.9" stroke="#000" stroke-width="4.6"/>
<line x1="823.8" y1="2508.55" x2="823.8" y2="2517.9" stroke="#000" stroke-width="4.6"/>
<line x1="972.6" y1="2508.55" x2="972.6" y2="2517.9" stroke="#000" stroke-width="4.6"/>
<line x1="1121.3" y1="2508.55" x2="1121.3" y2="2517.9" stroke="#000" stroke-width="4.6"/>
<line x1="1270.0" y1="2508.55" x2="1270.0" y2="2517.9" stroke="#000" stroke-width="4.6"/>
<line x1="168.0" y1="1579.9" x2="283.0" y2="1579.9" stroke="#ff0000" stroke-width="5.8"/>
<text transform="translate(295.6,1596.60) scale(1,1.03)" x="0" y="0" font-family="Liberation Sans" font-size="51.7">PBS</text>
<line x1="168.0" y1="1642.1" x2="283.0" y2="1642.1" stroke="#00ffff" stroke-width="5.8"/>
<text transform="translate(295.6,1658.85) scale(1,1.03)" x="0" y="0" font-family="Liberation Sans" font-size="51.7">PBS75/PBAT25</text>
<line x1="168.0" y1="1704.3" x2="283.0" y2="1704.3" stroke="#0000ff" stroke-width="5.8"/>
<text transform="translate(295.6,1721.10) scale(1,1.03)" x="0" y="0" font-family="Liberation Sans" font-size="51.7">PBS50/PBAT50</text>
<line x1="168.0" y1="1766.5" x2="283.0" y2="1766.5" stroke="#00ff00" stroke-width="5.8"/>
<text transform="translate(295.6,1783.35) scale(1,1.03)" x="0" y="0" font-family="Liberation Sans" font-size="51.7">PBS25/PBAT75</text>
<line x1="168.0" y1="1828.7" x2="283.0" y2="1828.7" stroke="#000000" stroke-width="5.8"/>
<text transform="translate(295.6,1845.60) scale(1,1.03)" x="0" y="0" font-family="Liberation Sans" font-size="51.7">PBAT</text>
<text x="26.6" y="1595.5" font-family="Liberation Sans" font-weight="bold" font-size="92">c</text>
<text transform="translate(71.8,2008.75) rotate(-90)" x="0" y="0" font-family="Liberation Sans" font-size="50.7" text-anchor="middle">Absorbance</text>
<text transform="translate(533.5,2666.6) scale(1,1.025)" x="0" y="0" font-family="Liberation Sans" font-size="50.9">Wavenumbers (cm</text>
<text x="958.4" y="2641.8" font-family="Liberation Sans" font-size="30.5">-1</text>
<text transform="translate(987.6,2666.6) scale(1,1.025)" x="0" y="0" font-family="Liberation Sans" font-size="50.9">)</text>
<text transform="translate(756.5,2013) scale(1,1.04)" x="0" y="0" font-family="Liberation Sans" font-size="50.3">1738</text>
<line x1="765.5" y1="2021.1" x2="765.5" y2="2077.2" stroke="#000" stroke-width="1.1"/>
</svg>
</body></html>
